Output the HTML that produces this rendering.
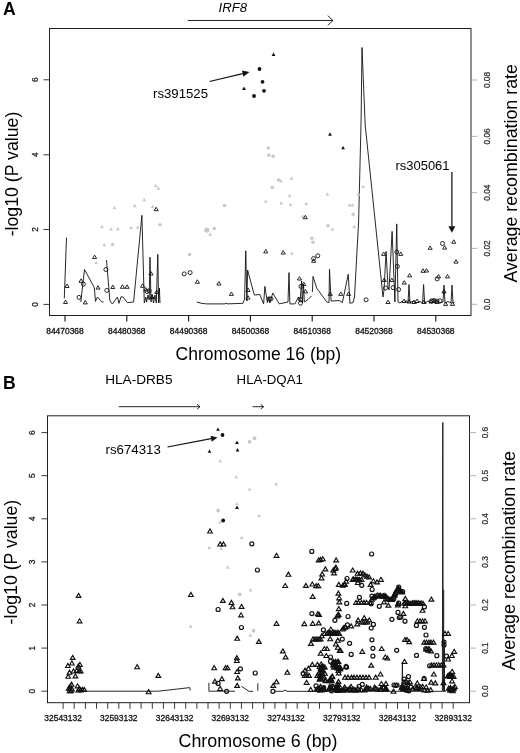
<!DOCTYPE html>
<html lang="en"><head><meta charset="utf-8"><title>Figure</title>
<style>html,body{margin:0;padding:0;background:#fff}svg{display:block}</style>
</head><body>
<svg width="520" height="753" viewBox="0 0 520 753" font-family="'Liberation Sans', Arial, Helvetica, sans-serif">
<rect width="520" height="753" fill="#fff"/>
<rect x="49.5" y="28.5" width="421.5" height="287.0" fill="none" stroke="#222" stroke-width="1"/>
<text x="2.9" y="15.1" font-size="17.6" fill="#000" text-anchor="start" font-weight="bold">A</text>
<text x="218.5" y="11.7" font-size="13" fill="#000" text-anchor="start" textLength="28.5" lengthAdjust="spacingAndGlyphs" font-style="italic">IRF8</text>
<path d="M187.7 20.5H333M327.7 15.6L333 20.5L327.7 25.4" fill="none" stroke="#111" stroke-width="0.9"/>
<path d="M43.5 79.8H49.5" stroke="#222" stroke-width="0.9"/>
<text transform="translate(37.7 79.8) rotate(-90)" font-size="8.3" fill="#222" text-anchor="middle" stroke="#222" stroke-width="0.3">6</text>
<path d="M43.5 154.8H49.5" stroke="#222" stroke-width="0.9"/>
<text transform="translate(37.7 154.8) rotate(-90)" font-size="8.3" fill="#222" text-anchor="middle" stroke="#222" stroke-width="0.3">4</text>
<path d="M43.5 229.5H49.5" stroke="#222" stroke-width="0.9"/>
<text transform="translate(37.7 229.5) rotate(-90)" font-size="8.3" fill="#222" text-anchor="middle" stroke="#222" stroke-width="0.3">2</text>
<path d="M43.5 304.4H49.5" stroke="#222" stroke-width="0.9"/>
<text transform="translate(37.7 304.4) rotate(-90)" font-size="8.3" fill="#222" text-anchor="middle" stroke="#222" stroke-width="0.3">0</text>
<path d="M471 80H477" stroke="#aaaaaa" stroke-width="0.9"/>
<text transform="translate(490.2 80) rotate(-90)" font-size="8.3" fill="#333" text-anchor="middle" stroke="#333" stroke-width="0.3">0.08</text>
<path d="M471 136.4H477" stroke="#aaaaaa" stroke-width="0.9"/>
<text transform="translate(490.2 136.4) rotate(-90)" font-size="8.3" fill="#333" text-anchor="middle" stroke="#333" stroke-width="0.3">0.06</text>
<path d="M471 192.6H477" stroke="#aaaaaa" stroke-width="0.9"/>
<text transform="translate(490.2 192.6) rotate(-90)" font-size="8.3" fill="#333" text-anchor="middle" stroke="#333" stroke-width="0.3">0.04</text>
<path d="M471 248.4H477" stroke="#aaaaaa" stroke-width="0.9"/>
<text transform="translate(490.2 248.4) rotate(-90)" font-size="8.3" fill="#333" text-anchor="middle" stroke="#333" stroke-width="0.3">0.02</text>
<path d="M471 304.3H477" stroke="#aaaaaa" stroke-width="0.9"/>
<text transform="translate(490.2 304.3) rotate(-90)" font-size="8.3" fill="#333" text-anchor="middle" stroke="#333" stroke-width="0.3">0.0</text>
<path d="M65.0 315.5V321.6" stroke="#111" stroke-width="1.1"/>
<text x="65.0" y="333.9" font-size="8.3" fill="#111" text-anchor="middle" textLength="37.5" lengthAdjust="spacingAndGlyphs" stroke="#111" stroke-width="0.3">84470368</text>
<path d="M126.8 315.5V321.6" stroke="#111" stroke-width="1.1"/>
<text x="126.8" y="333.9" font-size="8.3" fill="#111" text-anchor="middle" textLength="37.5" lengthAdjust="spacingAndGlyphs" stroke="#111" stroke-width="0.3">84480368</text>
<path d="M188.6 315.5V321.6" stroke="#111" stroke-width="1.1"/>
<text x="188.6" y="333.9" font-size="8.3" fill="#111" text-anchor="middle" textLength="37.5" lengthAdjust="spacingAndGlyphs" stroke="#111" stroke-width="0.3">84490368</text>
<path d="M250.4 315.5V321.6" stroke="#111" stroke-width="1.1"/>
<text x="250.4" y="333.9" font-size="8.3" fill="#111" text-anchor="middle" textLength="37.5" lengthAdjust="spacingAndGlyphs" stroke="#111" stroke-width="0.3">84500368</text>
<path d="M312.2 315.5V321.6" stroke="#111" stroke-width="1.1"/>
<text x="312.2" y="333.9" font-size="8.3" fill="#111" text-anchor="middle" textLength="37.5" lengthAdjust="spacingAndGlyphs" stroke="#111" stroke-width="0.3">84510368</text>
<path d="M374.0 315.5V321.6" stroke="#111" stroke-width="1.1"/>
<text x="374.0" y="333.9" font-size="8.3" fill="#111" text-anchor="middle" textLength="37.5" lengthAdjust="spacingAndGlyphs" stroke="#111" stroke-width="0.3">84520368</text>
<path d="M435.8 315.5V321.6" stroke="#111" stroke-width="1.1"/>
<text x="435.8" y="333.9" font-size="8.3" fill="#111" text-anchor="middle" textLength="37.5" lengthAdjust="spacingAndGlyphs" stroke="#111" stroke-width="0.3">84530368</text>
<text x="175.6" y="360" font-size="17.7" fill="#000" text-anchor="start" textLength="165.5" lengthAdjust="spacingAndGlyphs">Chromosome 16 (bp)</text>
<text transform="translate(18.4 236.3) rotate(-90)" font-size="17.7" fill="#000" text-anchor="start" textLength="124.6" lengthAdjust="spacingAndGlyphs">-log10 (P value)</text>
<text transform="translate(516.8 282.6) rotate(-90)" font-size="17.8" fill="#000" text-anchor="start" textLength="218.5" lengthAdjust="spacingAndGlyphs">Average recombination rate</text>
<text x="153" y="97.5" font-size="13" fill="#000" text-anchor="start" textLength="55" lengthAdjust="spacingAndGlyphs">rs391525</text>
<text x="395.5" y="170.3" font-size="13" fill="#000" text-anchor="start" textLength="54" lengthAdjust="spacingAndGlyphs">rs305061</text>
<path d="M209.5 81.5L242.7 73.6" stroke="#111" stroke-width="1.25"/><path d="M249.5 72.0L243.4 76.7L242.0 70.5Z" fill="#111"/>
<path d="M451.9 172.0L451.9 226.3" stroke="#111" stroke-width="1.25"/><path d="M451.9 232.8L448.4 226.3L455.4 226.3Z" fill="#111"/>
<path d="M64.3 298.3L66.5 237.6" fill="none" stroke="#111" stroke-width="0.9" stroke-linejoin="miter"/>
<path d="M80.8 302L84.5 269.5L94.3 287.6L95.5 301.4L97.4 297L101.8 302L103.6 302" fill="none" stroke="#111" stroke-width="0.9" stroke-linejoin="miter"/>
<path d="M106.5 260L109.9 300.8L112.4 304L113 303.2L117.4 297L119 303.3L121 296.8L123 297L127.4 302.6L133.6 302L141.9 215.4L144.3 303L145.8 297L146.6 302L148 295L149.2 300L150 257.2L151 302L152 294L153.5 303L155 295L156.3 303L157.8 254.3L158.6 303L159.4 288L160 303" fill="none" stroke="#111" stroke-width="0.9" stroke-linejoin="miter"/>
<path d="M196.8 302Q202 303.9 206.8 303.9L225 303.9L226 303L227 303.9L243 303.3L244.6 299L245.75 250.75L246.9 301L247.6 270L254.25 295L259.9 294.5L263.6 303.9L264.9 286.4L267.4 302.6L268.6 297L269.9 303L272.75 293L279.25 303.9L288 302L289 272.6L289.9 303.9L294.9 303.9L298.5 297L300 302L301.6 281L302.4 303L303.5 284L304.3 302L308 299.5L311.75 295.75" fill="none" stroke="#111" stroke-width="0.9" stroke-linejoin="miter"/>
<path d="M312.4 292L313 276.4L316.75 288.25L326.75 302L329 302.6L329.5 269.25L331.1 301L339.25 300.5L342.4 302.6L348.25 274.25L349.9 303.25L353 302.6L354.5 297L358.6 222L361.1 120L362 47.5L365.2 125L376.5 234L383 297L384 290L386.1 251.4L388 287L389 290L392.1 231.4L394.9 302L396.75 223.9L398 302L400 303L402 301L404 303L406 300.5L408 303L409 284.5L410 303L413 301L416 303L420 301.5L422.6 303L423.6 284.5L424.6 303L428 301L432 303L436 300.5L440 303L443 302L444 285L445 303L448 301.5L451 303L452 285L453 303L454.4 302.5" fill="none" stroke="#111" stroke-width="0.9" stroke-linejoin="miter"/>
<path d="M94.2 264.1L98.0 264.1L96.1 260.7Z" fill="#c9c9c9"/>
<path d="M100.1 228.3L103.9 228.3L102.0 224.8Z" fill="#c9c9c9"/>
<path d="M109.1 230.5L112.9 230.5L111.0 227.1Z" fill="#c9c9c9"/>
<path d="M102.3 246.3L106.2 246.3L104.2 242.8Z" fill="#c9c9c9"/>
<path d="M115.9 230.4L119.7 230.4L117.8 227.0Z" fill="#c9c9c9"/>
<path d="M129.2 229.1L133.0 229.1L131.1 225.7Z" fill="#c9c9c9"/>
<path d="M135.8 228.7L139.6 228.7L137.7 225.3Z" fill="#c9c9c9"/>
<path d="M153.9 187.3L157.7 187.3L155.8 183.9Z" fill="#c9c9c9"/>
<path d="M156.5 190.0L160.3 190.0L158.4 186.6Z" fill="#c9c9c9"/>
<path d="M142.3 201.2L146.1 201.2L144.2 197.8Z" fill="#c9c9c9"/>
<path d="M132.8 207.2L136.6 207.2L134.7 203.8Z" fill="#c9c9c9"/>
<path d="M112.6 209.2L116.4 209.2L114.5 205.8Z" fill="#c9c9c9"/>
<path d="M150.8 208.0L154.6 208.0L152.7 204.6Z" fill="#c9c9c9"/>
<path d="M208.3 235.8L212.2 235.8L210.2 232.3Z" fill="#c9c9c9"/>
<path d="M289.9 254.8L293.6 254.8L291.8 251.3Z" fill="#c9c9c9"/>
<path d="M330.5 230.8L334.3 230.8L332.4 227.3Z" fill="#c9c9c9"/>
<path d="M352.4 228.3L356.1 228.3L354.2 224.8Z" fill="#c9c9c9"/>
<path d="M289.6 179.7L293.4 179.7L291.5 176.3Z" fill="#c9c9c9"/>
<path d="M279.1 182.5L282.9 182.5L281.0 179.1Z" fill="#c9c9c9"/>
<path d="M287.6 197.2L291.4 197.2L289.5 193.8Z" fill="#c9c9c9"/>
<path d="M263.8 202.6L267.6 202.6L265.7 199.2Z" fill="#c9c9c9"/>
<path d="M279.3 204.6L283.1 204.6L281.2 201.2Z" fill="#c9c9c9"/>
<path d="M288.6 206.1L292.4 206.1L290.5 202.7Z" fill="#c9c9c9"/>
<path d="M304.3 205.0L308.1 205.0L306.2 201.6Z" fill="#c9c9c9"/>
<path d="M361.2 188.1L365.0 188.1L363.1 184.7Z" fill="#c9c9c9"/>
<path d="M356.6 195.7L360.4 195.7L358.5 192.3Z" fill="#c9c9c9"/>
<path d="M325.5 195.7L329.3 195.7L327.4 192.3Z" fill="#c9c9c9"/>
<path d="M347.6 206.4L351.4 206.4L349.5 203.0Z" fill="#c9c9c9"/>
<path d="M350.4 206.5L354.2 206.5L352.3 203.1Z" fill="#c9c9c9"/>
<circle cx="112.6" cy="244.5" r="1.8" fill="#c9c9c9"/>
<circle cx="160.0" cy="224.7" r="1.8" fill="#c9c9c9"/>
<circle cx="206.8" cy="230.1" r="2.6" fill="#c9c9c9"/>
<circle cx="214.2" cy="228.5" r="1.8" fill="#c9c9c9"/>
<circle cx="189.5" cy="254.5" r="1.8" fill="#c9c9c9"/>
<circle cx="268.2" cy="148.0" r="1.8" fill="#c9c9c9"/>
<circle cx="268.8" cy="155.1" r="1.8" fill="#c9c9c9"/>
<circle cx="273.1" cy="156.2" r="1.8" fill="#c9c9c9"/>
<circle cx="278.5" cy="180.0" r="1.8" fill="#c9c9c9"/>
<circle cx="272.3" cy="187.4" r="1.8" fill="#c9c9c9"/>
<circle cx="303.0" cy="217.0" r="1.8" fill="#c9c9c9"/>
<circle cx="328.0" cy="225.8" r="1.8" fill="#c9c9c9"/>
<circle cx="311.8" cy="238.2" r="1.8" fill="#c9c9c9"/>
<circle cx="313.0" cy="242.2" r="1.8" fill="#c9c9c9"/>
<circle cx="353.1" cy="214.2" r="1.8" fill="#c9c9c9"/>
<circle cx="224.5" cy="205.5" r="1.8" fill="#c9c9c9"/>
<path d="M63.5 303.5L67.5 303.5L65.5 300.1Z" fill="none" stroke="#111" stroke-width="0.9"/>
<path d="M65.0 287.5L69.1 287.5L67.1 284.1Z" fill="none" stroke="#111" stroke-width="0.9"/>
<path d="M79.0 282.3L83.1 282.3L81.1 278.8Z" fill="none" stroke="#111" stroke-width="0.9"/>
<path d="M83.2 303.9L87.3 303.9L85.2 300.5Z" fill="none" stroke="#111" stroke-width="0.9"/>
<path d="M92.5 258.5L96.6 258.5L94.6 255.1Z" fill="none" stroke="#111" stroke-width="0.9"/>
<path d="M96.0 289.1L100.0 289.1L98.0 285.7Z" fill="none" stroke="#111" stroke-width="0.9"/>
<path d="M110.8 288.5L114.8 288.5L112.8 285.1Z" fill="none" stroke="#111" stroke-width="0.9"/>
<path d="M120.4 288.3L124.5 288.3L122.4 284.8Z" fill="none" stroke="#111" stroke-width="0.9"/>
<path d="M125.0 288.3L129.1 288.3L127.0 284.8Z" fill="none" stroke="#111" stroke-width="0.9"/>
<path d="M140.5 287.3L144.7 287.3L142.6 283.8Z" fill="none" stroke="#111" stroke-width="0.9"/>
<path d="M148.9 275.0L153.1 275.0L151.0 271.6Z" fill="none" stroke="#111" stroke-width="0.9"/>
<path d="M143.7 291.0L147.8 291.0L145.8 287.6Z" fill="none" stroke="#111" stroke-width="0.9"/>
<path d="M149.9 298.5L154.1 298.5L152.0 295.1Z" fill="none" stroke="#111" stroke-width="0.9"/>
<path d="M154.7 293.5L158.8 293.5L156.8 290.1Z" fill="none" stroke="#111" stroke-width="0.9"/>
<path d="M154.1 210.7L158.2 210.7L156.2 207.3Z" fill="none" stroke="#111" stroke-width="0.9"/>
<path d="M195.3 283.3L199.5 283.3L197.4 279.8Z" fill="none" stroke="#111" stroke-width="0.9"/>
<path d="M216.8 285.0L221.0 285.0L218.9 281.6Z" fill="none" stroke="#111" stroke-width="0.9"/>
<path d="M229.3 295.4L233.5 295.4L231.4 292.0Z" fill="none" stroke="#111" stroke-width="0.9"/>
<path d="M263.7 252.9L267.8 252.9L265.8 249.5Z" fill="none" stroke="#111" stroke-width="0.9"/>
<path d="M281.2 254.1L285.3 254.1L283.2 250.7Z" fill="none" stroke="#111" stroke-width="0.9"/>
<path d="M297.4 280.0L301.6 280.0L299.5 276.6Z" fill="none" stroke="#111" stroke-width="0.9"/>
<path d="M245.9 291.5L250.1 291.5L248.0 288.1Z" fill="none" stroke="#111" stroke-width="0.9"/>
<path d="M245.9 299.1L250.1 299.1L248.0 295.7Z" fill="none" stroke="#111" stroke-width="0.9"/>
<path d="M303.4 292.9L307.6 292.9L305.5 289.5Z" fill="none" stroke="#111" stroke-width="0.9"/>
<path d="M303.3 218.7L307.4 218.7L305.4 215.3Z" fill="none" stroke="#111" stroke-width="0.9"/>
<path d="M311.6 262.3L315.7 262.3L313.6 258.8Z" fill="none" stroke="#111" stroke-width="0.9"/>
<path d="M328.2 295.4L332.3 295.4L330.2 292.0Z" fill="none" stroke="#111" stroke-width="0.9"/>
<path d="M338.7 295.4L342.8 295.4L340.8 292.0Z" fill="none" stroke="#111" stroke-width="0.9"/>
<path d="M346.6 295.4L350.7 295.4L348.6 292.0Z" fill="none" stroke="#111" stroke-width="0.9"/>
<path d="M381.6 255.4L385.7 255.4L383.6 252.0Z" fill="none" stroke="#111" stroke-width="0.9"/>
<path d="M398.7 255.4L402.8 255.4L400.8 252.0Z" fill="none" stroke="#111" stroke-width="0.9"/>
<path d="M428.1 249.3L432.2 249.3L430.1 245.9Z" fill="none" stroke="#111" stroke-width="0.9"/>
<path d="M407.6 276.9L411.7 276.9L409.6 273.5Z" fill="none" stroke="#111" stroke-width="0.9"/>
<path d="M402.2 284.1L406.3 284.1L404.2 280.7Z" fill="none" stroke="#111" stroke-width="0.9"/>
<path d="M420.9 272.3L425.1 272.3L423.0 268.8Z" fill="none" stroke="#111" stroke-width="0.9"/>
<path d="M424.4 272.0L428.6 272.0L426.5 268.6Z" fill="none" stroke="#111" stroke-width="0.9"/>
<path d="M385.9 303.5L390.1 303.5L388.0 300.1Z" fill="none" stroke="#111" stroke-width="0.9"/>
<path d="M382.2 281.5L386.3 281.5L384.2 278.1Z" fill="none" stroke="#111" stroke-width="0.9"/>
<path d="M389.7 281.5L393.8 281.5L391.8 278.1Z" fill="none" stroke="#111" stroke-width="0.9"/>
<path d="M401.9 302.5L406.1 302.5L404.0 299.1Z" fill="none" stroke="#111" stroke-width="0.9"/>
<path d="M406.9 303.0L411.1 303.0L409.0 299.6Z" fill="none" stroke="#111" stroke-width="0.9"/>
<path d="M411.9 303.5L416.1 303.5L414.0 300.1Z" fill="none" stroke="#111" stroke-width="0.9"/>
<path d="M414.9 302.5L419.1 302.5L417.0 299.1Z" fill="none" stroke="#111" stroke-width="0.9"/>
<path d="M421.9 303.5L426.1 303.5L424.0 300.1Z" fill="none" stroke="#111" stroke-width="0.9"/>
<path d="M428.9 303.0L433.1 303.0L431.0 299.6Z" fill="none" stroke="#111" stroke-width="0.9"/>
<path d="M431.9 302.5L436.1 302.5L434.0 299.1Z" fill="none" stroke="#111" stroke-width="0.9"/>
<path d="M434.9 303.5L439.1 303.5L437.0 300.1Z" fill="none" stroke="#111" stroke-width="0.9"/>
<path d="M451.7 243.3L455.8 243.3L453.8 239.8Z" fill="none" stroke="#111" stroke-width="0.9"/>
<path d="M442.6 249.1L446.7 249.1L444.6 245.7Z" fill="none" stroke="#111" stroke-width="0.9"/>
<path d="M453.9 263.1L458.1 263.1L456.0 259.7Z" fill="none" stroke="#111" stroke-width="0.9"/>
<path d="M436.4 277.9L440.6 277.9L438.5 274.5Z" fill="none" stroke="#111" stroke-width="0.9"/>
<path d="M445.4 277.9L449.6 277.9L447.5 274.5Z" fill="none" stroke="#111" stroke-width="0.9"/>
<path d="M441.9 292.9L446.1 292.9L444.0 289.5Z" fill="none" stroke="#111" stroke-width="0.9"/>
<path d="M443.6 305.4L447.7 305.4L445.6 302.0Z" fill="none" stroke="#111" stroke-width="0.9"/>
<path d="M450.4 305.4L454.6 305.4L452.5 302.0Z" fill="none" stroke="#111" stroke-width="0.9"/>
<path d="M301.7 285.5L305.8 285.5L303.8 282.1Z" fill="none" stroke="#111" stroke-width="0.9"/>
<circle cx="79.0" cy="297.4" r="2.0" fill="none" stroke="#111" stroke-width="0.9"/>
<circle cx="83.4" cy="284.2" r="2.0" fill="none" stroke="#111" stroke-width="0.9"/>
<circle cx="105.9" cy="269.5" r="2.0" fill="none" stroke="#111" stroke-width="0.9"/>
<circle cx="106.8" cy="290.4" r="2.0" fill="none" stroke="#111" stroke-width="0.9"/>
<circle cx="149.2" cy="290.8" r="2.0" fill="none" stroke="#111" stroke-width="0.9"/>
<circle cx="147.0" cy="291.5" r="2.0" fill="none" stroke="#111" stroke-width="0.9"/>
<circle cx="184.2" cy="273.9" r="2.0" fill="none" stroke="#111" stroke-width="0.9"/>
<circle cx="190.1" cy="272.6" r="2.0" fill="none" stroke="#111" stroke-width="0.9"/>
<circle cx="269.0" cy="298.9" r="2.0" fill="none" stroke="#111" stroke-width="0.9"/>
<circle cx="271.0" cy="298.9" r="2.0" fill="none" stroke="#111" stroke-width="0.9"/>
<circle cx="301.0" cy="286.4" r="2.0" fill="none" stroke="#111" stroke-width="0.9"/>
<circle cx="300.5" cy="299.5" r="2.0" fill="none" stroke="#111" stroke-width="0.9"/>
<circle cx="300.5" cy="303.2" r="2.0" fill="none" stroke="#111" stroke-width="0.9"/>
<circle cx="313.6" cy="258.5" r="2.0" fill="none" stroke="#111" stroke-width="0.9"/>
<circle cx="317.8" cy="255.8" r="2.0" fill="none" stroke="#111" stroke-width="0.9"/>
<circle cx="366.1" cy="299.8" r="2.0" fill="none" stroke="#111" stroke-width="0.9"/>
<circle cx="396.8" cy="252.0" r="2.0" fill="none" stroke="#111" stroke-width="0.9"/>
<circle cx="397.4" cy="266.4" r="2.0" fill="none" stroke="#111" stroke-width="0.9"/>
<circle cx="398.6" cy="289.5" r="2.0" fill="none" stroke="#111" stroke-width="0.9"/>
<circle cx="393.0" cy="287.6" r="2.0" fill="none" stroke="#111" stroke-width="0.9"/>
<circle cx="437.2" cy="278.9" r="2.0" fill="none" stroke="#111" stroke-width="0.9"/>
<circle cx="385.5" cy="288.0" r="2.0" fill="none" stroke="#111" stroke-width="0.9"/>
<circle cx="442.5" cy="243.5" r="2.0" fill="none" stroke="#111" stroke-width="0.9"/>
<circle cx="431.5" cy="300.8" r="2.0" fill="none" stroke="#111" stroke-width="0.9"/>
<circle cx="434.0" cy="300.5" r="2.0" fill="none" stroke="#111" stroke-width="0.9"/>
<circle cx="437.0" cy="301.0" r="2.0" fill="none" stroke="#111" stroke-width="0.9"/>
<circle cx="440.0" cy="300.8" r="2.0" fill="none" stroke="#111" stroke-width="0.9"/>
<path d="M242.1 90.0L245.9 90.0L244.0 86.6Z" fill="#111"/>
<path d="M271.6 56.0L275.4 56.0L273.5 52.6Z" fill="#111"/>
<path d="M328.1 135.7L331.9 135.7L330.0 132.3Z" fill="#111"/>
<path d="M341.2 149.3L345.0 149.3L343.1 145.9Z" fill="#111"/>
<circle cx="254.0" cy="96.0" r="1.9" fill="#111"/>
<circle cx="259.5" cy="69.0" r="1.9" fill="#111"/>
<circle cx="262.5" cy="81.8" r="1.9" fill="#111"/>
<circle cx="264.0" cy="90.8" r="1.9" fill="#111"/>
<rect x="47.5" y="415.8" width="422.0" height="286.90000000000003" fill="none" stroke="#222" stroke-width="1"/>
<text x="2.9" y="388.9" font-size="17.6" fill="#000" text-anchor="start" font-weight="bold">B</text>
<text x="105.2" y="384.2" font-size="13.6" fill="#000" text-anchor="start" textLength="67.3" lengthAdjust="spacingAndGlyphs">HLA-DRB5</text>
<text x="236.6" y="384.2" font-size="13.6" fill="#000" text-anchor="start" textLength="66.3" lengthAdjust="spacingAndGlyphs">HLA-DQA1</text>
<path d="M118.8 406.7H200M197 404.2L200 406.7L197 409.2" fill="none" stroke="#111" stroke-width="0.9"/>
<path d="M252.6 406.7H263.6M260.6 404.3L263.6 406.7L260.6 409.1" fill="none" stroke="#111" stroke-width="0.9"/>
<path d="M41.5 691.2H47.5" stroke="#222" stroke-width="0.9"/>
<text transform="translate(35.1 691.2) rotate(-90)" font-size="8.3" fill="#222" text-anchor="middle" stroke="#222" stroke-width="0.3">0</text>
<path d="M41.5 648.1H47.5" stroke="#222" stroke-width="0.9"/>
<text transform="translate(35.1 648.1) rotate(-90)" font-size="8.3" fill="#222" text-anchor="middle" stroke="#222" stroke-width="0.3">1</text>
<path d="M41.5 605.0H47.5" stroke="#222" stroke-width="0.9"/>
<text transform="translate(35.1 605.0) rotate(-90)" font-size="8.3" fill="#222" text-anchor="middle" stroke="#222" stroke-width="0.3">2</text>
<path d="M41.5 561.9H47.5" stroke="#222" stroke-width="0.9"/>
<text transform="translate(35.1 561.9) rotate(-90)" font-size="8.3" fill="#222" text-anchor="middle" stroke="#222" stroke-width="0.3">3</text>
<path d="M41.5 518.8H47.5" stroke="#222" stroke-width="0.9"/>
<text transform="translate(35.1 518.8) rotate(-90)" font-size="8.3" fill="#222" text-anchor="middle" stroke="#222" stroke-width="0.3">4</text>
<path d="M41.5 475.7H47.5" stroke="#222" stroke-width="0.9"/>
<text transform="translate(35.1 475.7) rotate(-90)" font-size="8.3" fill="#222" text-anchor="middle" stroke="#222" stroke-width="0.3">5</text>
<path d="M41.5 432.6H47.5" stroke="#222" stroke-width="0.9"/>
<text transform="translate(35.1 432.6) rotate(-90)" font-size="8.3" fill="#222" text-anchor="middle" stroke="#222" stroke-width="0.3">6</text>
<path d="M469.5 691.2H476" stroke="#aaaaaa" stroke-width="0.9"/>
<text transform="translate(487.9 691.2) rotate(-90)" font-size="8.3" fill="#333" text-anchor="middle" stroke="#333" stroke-width="0.3">0.0</text>
<path d="M469.5 648.1H476" stroke="#aaaaaa" stroke-width="0.9"/>
<text transform="translate(487.9 648.1) rotate(-90)" font-size="8.3" fill="#333" text-anchor="middle" stroke="#333" stroke-width="0.3">0.1</text>
<path d="M469.5 605.0H476" stroke="#aaaaaa" stroke-width="0.9"/>
<text transform="translate(487.9 605.0) rotate(-90)" font-size="8.3" fill="#333" text-anchor="middle" stroke="#333" stroke-width="0.3">0.2</text>
<path d="M469.5 561.9H476" stroke="#aaaaaa" stroke-width="0.9"/>
<text transform="translate(487.9 561.9) rotate(-90)" font-size="8.3" fill="#333" text-anchor="middle" stroke="#333" stroke-width="0.3">0.3</text>
<path d="M469.5 518.8H476" stroke="#aaaaaa" stroke-width="0.9"/>
<text transform="translate(487.9 518.8) rotate(-90)" font-size="8.3" fill="#333" text-anchor="middle" stroke="#333" stroke-width="0.3">0.4</text>
<path d="M469.5 475.7H476" stroke="#aaaaaa" stroke-width="0.9"/>
<text transform="translate(487.9 475.7) rotate(-90)" font-size="8.3" fill="#333" text-anchor="middle" stroke="#333" stroke-width="0.3">0.5</text>
<path d="M469.5 432.6H476" stroke="#aaaaaa" stroke-width="0.9"/>
<text transform="translate(487.9 432.6) rotate(-90)" font-size="8.3" fill="#333" text-anchor="middle" stroke="#333" stroke-width="0.3">0.6</text>
<path d="M63.1 702.7V708.8" stroke="#222" stroke-width="0.9"/>
<text x="63.1" y="720.6" font-size="8.3" fill="#111" text-anchor="middle" textLength="37.5" lengthAdjust="spacingAndGlyphs" stroke="#111" stroke-width="0.3">32543132</text>
<path d="M74.2 702.7V708.8" stroke="#222" stroke-width="0.9"/>
<path d="M85.4 702.7V708.8" stroke="#222" stroke-width="0.9"/>
<path d="M96.5 702.7V708.8" stroke="#222" stroke-width="0.9"/>
<path d="M107.7 702.7V708.8" stroke="#222" stroke-width="0.9"/>
<path d="M118.8 702.7V708.8" stroke="#222" stroke-width="0.9"/>
<text x="118.8" y="720.6" font-size="8.3" fill="#111" text-anchor="middle" textLength="37.5" lengthAdjust="spacingAndGlyphs" stroke="#111" stroke-width="0.3">32593132</text>
<path d="M130.0 702.7V708.8" stroke="#222" stroke-width="0.9"/>
<path d="M141.1 702.7V708.8" stroke="#222" stroke-width="0.9"/>
<path d="M152.3 702.7V708.8" stroke="#222" stroke-width="0.9"/>
<path d="M163.4 702.7V708.8" stroke="#222" stroke-width="0.9"/>
<path d="M174.6 702.7V708.8" stroke="#222" stroke-width="0.9"/>
<text x="174.6" y="720.6" font-size="8.3" fill="#111" text-anchor="middle" textLength="37.5" lengthAdjust="spacingAndGlyphs" stroke="#111" stroke-width="0.3">32643132</text>
<path d="M185.7 702.7V708.8" stroke="#222" stroke-width="0.9"/>
<path d="M196.9 702.7V708.8" stroke="#222" stroke-width="0.9"/>
<path d="M208.0 702.7V708.8" stroke="#222" stroke-width="0.9"/>
<path d="M219.1 702.7V708.8" stroke="#222" stroke-width="0.9"/>
<path d="M230.3 702.7V708.8" stroke="#222" stroke-width="0.9"/>
<text x="230.3" y="720.6" font-size="8.3" fill="#111" text-anchor="middle" textLength="37.5" lengthAdjust="spacingAndGlyphs" stroke="#111" stroke-width="0.3">32693132</text>
<path d="M241.4 702.7V708.8" stroke="#222" stroke-width="0.9"/>
<path d="M252.6 702.7V708.8" stroke="#222" stroke-width="0.9"/>
<path d="M263.7 702.7V708.8" stroke="#222" stroke-width="0.9"/>
<path d="M274.9 702.7V708.8" stroke="#222" stroke-width="0.9"/>
<path d="M286.0 702.7V708.8" stroke="#222" stroke-width="0.9"/>
<text x="286.0" y="720.6" font-size="8.3" fill="#111" text-anchor="middle" textLength="37.5" lengthAdjust="spacingAndGlyphs" stroke="#111" stroke-width="0.3">32743132</text>
<path d="M297.2 702.7V708.8" stroke="#222" stroke-width="0.9"/>
<path d="M308.3 702.7V708.8" stroke="#222" stroke-width="0.9"/>
<path d="M319.5 702.7V708.8" stroke="#222" stroke-width="0.9"/>
<path d="M330.6 702.7V708.8" stroke="#222" stroke-width="0.9"/>
<path d="M341.8 702.7V708.8" stroke="#222" stroke-width="0.9"/>
<text x="341.8" y="720.6" font-size="8.3" fill="#111" text-anchor="middle" textLength="37.5" lengthAdjust="spacingAndGlyphs" stroke="#111" stroke-width="0.3">32793132</text>
<path d="M352.9 702.7V708.8" stroke="#222" stroke-width="0.9"/>
<path d="M364.0 702.7V708.8" stroke="#222" stroke-width="0.9"/>
<path d="M375.2 702.7V708.8" stroke="#222" stroke-width="0.9"/>
<path d="M386.3 702.7V708.8" stroke="#222" stroke-width="0.9"/>
<path d="M397.5 702.7V708.8" stroke="#222" stroke-width="0.9"/>
<text x="397.5" y="720.6" font-size="8.3" fill="#111" text-anchor="middle" textLength="37.5" lengthAdjust="spacingAndGlyphs" stroke="#111" stroke-width="0.3">32843132</text>
<path d="M408.6 702.7V708.8" stroke="#222" stroke-width="0.9"/>
<path d="M419.8 702.7V708.8" stroke="#222" stroke-width="0.9"/>
<path d="M430.9 702.7V708.8" stroke="#222" stroke-width="0.9"/>
<path d="M442.1 702.7V708.8" stroke="#222" stroke-width="0.9"/>
<path d="M453.2 702.7V708.8" stroke="#222" stroke-width="0.9"/>
<text x="453.2" y="720.6" font-size="8.3" fill="#111" text-anchor="middle" textLength="37.5" lengthAdjust="spacingAndGlyphs" stroke="#111" stroke-width="0.3">32893132</text>
<text x="178.5" y="747" font-size="17.7" fill="#000" text-anchor="start" textLength="159" lengthAdjust="spacingAndGlyphs">Chromosome 6 (bp)</text>
<text transform="translate(16.6 624.4) rotate(-90)" font-size="17.7" fill="#000" text-anchor="start" textLength="124.6" lengthAdjust="spacingAndGlyphs">-log10 (P value)</text>
<text transform="translate(514.6 670.3) rotate(-90)" font-size="17.8" fill="#000" text-anchor="start" textLength="219.3" lengthAdjust="spacingAndGlyphs">Average recombination rate</text>
<text x="105.5" y="453.8" font-size="13" fill="#000" text-anchor="start" textLength="55.3" lengthAdjust="spacingAndGlyphs">rs674313</text>
<path d="M167.5 447.0L211.1 438.7" stroke="#111" stroke-width="1.25"/><path d="M217.5 437.5L211.7 441.7L210.6 435.8Z" fill="#111"/>
<path d="M84 691.2H158.3L189.8 687.6L190.3 690.5" fill="none" stroke="#111" stroke-width="0.9"/>
<path d="M208.9 682.8V691.2H235" fill="none" stroke="#111" stroke-width="0.9"/>
<path d="M241.4 686.2L248.9 691.3H253" fill="none" stroke="#111" stroke-width="0.9"/>
<path d="M257.8 683.4V690.9" fill="none" stroke="#111" stroke-width="0.9"/>
<path d="M274.4 691.3H283L285 690L287 691.3H402L402.4 662.3L402.8 691.3H442.4L442.8 422.5L443.2 691.3H446" fill="none" stroke="#111" stroke-width="0.9"/>
<path d="M443.7 589.7V691.3M444.5 640V691.3" stroke="#111" stroke-width="0.9" fill="none"/>
<path d="M218.4 462.3L222.2 462.3L220.3 458.9Z" fill="#c9c9c9"/>
<path d="M234.3 478.3L238.2 478.3L236.2 474.9Z" fill="#c9c9c9"/>
<path d="M247.6 490.8L251.4 490.8L249.5 487.4Z" fill="#c9c9c9"/>
<path d="M274.4 485.5L278.1 485.5L276.2 482.1Z" fill="#c9c9c9"/>
<path d="M234.8 505.3L238.7 505.3L236.8 501.9Z" fill="#c9c9c9"/>
<path d="M257.1 517.0L260.9 517.0L259.0 513.6Z" fill="#c9c9c9"/>
<path d="M218.3 523.5L222.1 523.5L220.2 520.1Z" fill="#c9c9c9"/>
<path d="M239.8 539.0L243.7 539.0L241.8 535.6Z" fill="#c9c9c9"/>
<path d="M207.3 549.1L211.1 549.1L209.2 545.7Z" fill="#c9c9c9"/>
<path d="M219.3 550.1L223.1 550.1L221.2 546.7Z" fill="#c9c9c9"/>
<path d="M225.7 568.7L229.5 568.7L227.6 565.3Z" fill="#c9c9c9"/>
<path d="M248.7 591.5L252.5 591.5L250.6 588.1Z" fill="#c9c9c9"/>
<path d="M248.5 636.7L252.3 636.7L250.4 633.3Z" fill="#c9c9c9"/>
<path d="M188.7 627.7L192.5 627.7L190.6 624.3Z" fill="#c9c9c9"/>
<circle cx="249.5" cy="441.8" r="1.9" fill="#c9c9c9"/>
<circle cx="254.5" cy="438.2" r="1.9" fill="#c9c9c9"/>
<circle cx="218.2" cy="510.5" r="1.9" fill="#c9c9c9"/>
<circle cx="239.7" cy="594.4" r="1.9" fill="#c9c9c9"/>
<circle cx="253.5" cy="630.7" r="1.9" fill="#c9c9c9"/>
<path d="M76.2 597.4L80.9 597.4L78.6 593.4Z" fill="none" stroke="#111" stroke-width="1.15"/>
<path d="M77.2 622.8L81.9 622.8L79.6 618.8Z" fill="none" stroke="#111" stroke-width="1.15"/>
<path d="M70.4 659.4L75.0 659.4L72.7 655.4Z" fill="none" stroke="#111" stroke-width="1.15"/>
<path d="M69.6 665.0L74.2 665.0L71.9 661.0Z" fill="none" stroke="#111" stroke-width="1.15"/>
<path d="M65.6 667.5L70.2 667.5L67.9 663.5Z" fill="none" stroke="#111" stroke-width="1.15"/>
<path d="M77.6 666.3L82.2 666.3L79.9 662.3Z" fill="none" stroke="#111" stroke-width="1.15"/>
<path d="M76.0 667.8L80.6 667.8L78.3 663.8Z" fill="none" stroke="#111" stroke-width="1.15"/>
<path d="M67.2 674.2L71.8 674.2L69.5 670.2Z" fill="none" stroke="#111" stroke-width="1.15"/>
<path d="M71.2 673.0L75.8 673.0L73.5 669.0Z" fill="none" stroke="#111" stroke-width="1.15"/>
<path d="M74.4 672.3L79.0 672.3L76.7 668.3Z" fill="none" stroke="#111" stroke-width="1.15"/>
<path d="M76.7 672.6L81.3 672.6L79.0 668.6Z" fill="none" stroke="#111" stroke-width="1.15"/>
<path d="M78.4 673.0L83.0 673.0L80.7 669.0Z" fill="none" stroke="#111" stroke-width="1.15"/>
<path d="M65.9 678.2L70.5 678.2L68.2 674.2Z" fill="none" stroke="#111" stroke-width="1.15"/>
<path d="M73.1 677.9L77.8 677.9L75.4 673.9Z" fill="none" stroke="#111" stroke-width="1.15"/>
<path d="M68.0 687.8L72.6 687.8L70.3 683.8Z" fill="none" stroke="#111" stroke-width="1.15"/>
<path d="M66.4 690.2L71.0 690.2L68.7 686.2Z" fill="none" stroke="#111" stroke-width="1.15"/>
<path d="M69.2 686.2L73.9 686.2L71.6 682.2Z" fill="none" stroke="#111" stroke-width="1.15"/>
<path d="M75.2 687.8L79.8 687.8L77.5 683.8Z" fill="none" stroke="#111" stroke-width="1.15"/>
<path d="M67.2 692.6L71.8 692.6L69.5 688.6Z" fill="none" stroke="#111" stroke-width="1.15"/>
<path d="M68.8 692.6L73.4 692.6L71.1 688.6Z" fill="none" stroke="#111" stroke-width="1.15"/>
<path d="M76.0 691.8L80.6 691.8L78.3 687.8Z" fill="none" stroke="#111" stroke-width="1.15"/>
<path d="M78.4 691.8L83.0 691.8L80.7 687.8Z" fill="none" stroke="#111" stroke-width="1.15"/>
<path d="M80.0 691.4L84.6 691.4L82.3 687.4Z" fill="none" stroke="#111" stroke-width="1.15"/>
<path d="M82.0 691.4L86.6 691.4L84.3 687.4Z" fill="none" stroke="#111" stroke-width="1.15"/>
<path d="M67.7 690.3L72.3 690.3L70.0 686.3Z" fill="none" stroke="#111" stroke-width="1.15"/>
<path d="M69.7 690.8L74.3 690.8L72.0 686.8Z" fill="none" stroke="#111" stroke-width="1.15"/>
<path d="M77.2 690.3L81.8 690.3L79.5 686.3Z" fill="none" stroke="#111" stroke-width="1.15"/>
<path d="M188.6 596.5L193.2 596.5L190.9 592.5Z" fill="none" stroke="#111" stroke-width="1.15"/>
<path d="M134.8 668.7L139.5 668.7L137.2 664.7Z" fill="none" stroke="#111" stroke-width="1.15"/>
<path d="M156.0 677.4L160.7 677.4L158.3 673.4Z" fill="none" stroke="#111" stroke-width="1.15"/>
<path d="M146.3 693.7L151.0 693.7L148.7 689.7Z" fill="none" stroke="#111" stroke-width="1.15"/>
<path d="M207.7 533.0L212.3 533.0L210.0 529.0Z" fill="none" stroke="#111" stroke-width="1.15"/>
<path d="M217.8 546.0L222.5 546.0L220.2 542.0Z" fill="none" stroke="#111" stroke-width="1.15"/>
<path d="M221.1 546.0L225.8 546.0L223.4 542.0Z" fill="none" stroke="#111" stroke-width="1.15"/>
<path d="M274.1 557.3L278.9 557.3L276.5 553.3Z" fill="none" stroke="#111" stroke-width="1.15"/>
<path d="M286.0 576.2L290.8 576.2L288.4 572.2Z" fill="none" stroke="#111" stroke-width="1.15"/>
<path d="M282.8 587.5L287.6 587.5L285.2 583.5Z" fill="none" stroke="#111" stroke-width="1.15"/>
<path d="M220.6 602.4L225.2 602.4L222.9 598.4Z" fill="none" stroke="#111" stroke-width="1.15"/>
<path d="M229.1 604.5L233.8 604.5L231.4 600.5Z" fill="none" stroke="#111" stroke-width="1.15"/>
<path d="M230.2 608.7L234.8 608.7L232.5 604.7Z" fill="none" stroke="#111" stroke-width="1.15"/>
<path d="M239.2 608.3L243.9 608.3L241.6 604.3Z" fill="none" stroke="#111" stroke-width="1.15"/>
<path d="M238.7 616.8L243.3 616.8L241.0 612.8Z" fill="none" stroke="#111" stroke-width="1.15"/>
<path d="M274.1 625.3L278.9 625.3L276.5 621.3Z" fill="none" stroke="#111" stroke-width="1.15"/>
<path d="M234.8 640.2L239.5 640.2L237.2 636.2Z" fill="none" stroke="#111" stroke-width="1.15"/>
<path d="M256.5 643.4L261.2 643.4L258.9 639.4Z" fill="none" stroke="#111" stroke-width="1.15"/>
<path d="M280.5 652.9L285.2 652.9L282.9 648.9Z" fill="none" stroke="#111" stroke-width="1.15"/>
<path d="M283.2 658.9L288.0 658.9L285.6 654.9Z" fill="none" stroke="#111" stroke-width="1.15"/>
<path d="M234.5 659.7L239.2 659.7L236.8 655.7Z" fill="none" stroke="#111" stroke-width="1.15"/>
<path d="M234.5 662.5L239.2 662.5L236.8 658.5Z" fill="none" stroke="#111" stroke-width="1.15"/>
<path d="M211.8 669.7L216.5 669.7L214.2 665.7Z" fill="none" stroke="#111" stroke-width="1.15"/>
<path d="M223.2 669.7L227.8 669.7L225.5 665.7Z" fill="none" stroke="#111" stroke-width="1.15"/>
<path d="M225.2 669.7L229.9 669.7L227.6 665.7Z" fill="none" stroke="#111" stroke-width="1.15"/>
<path d="M234.8 673.5L239.5 673.5L237.2 669.5Z" fill="none" stroke="#111" stroke-width="1.15"/>
<path d="M284.9 674.2L289.7 674.2L287.3 670.2Z" fill="none" stroke="#111" stroke-width="1.15"/>
<path d="M235.5 679.9L240.2 679.9L237.8 675.9Z" fill="none" stroke="#111" stroke-width="1.15"/>
<path d="M219.6 680.6L224.2 680.6L221.9 676.6Z" fill="none" stroke="#111" stroke-width="1.15"/>
<path d="M212.6 683.1L217.2 683.1L214.9 679.1Z" fill="none" stroke="#111" stroke-width="1.15"/>
<path d="M274.1 683.7L278.9 683.7L276.5 679.7Z" fill="none" stroke="#111" stroke-width="1.15"/>
<path d="M234.8 687.4L239.5 687.4L237.2 683.4Z" fill="none" stroke="#111" stroke-width="1.15"/>
<path d="M270.9 687.4L275.7 687.4L273.3 683.4Z" fill="none" stroke="#111" stroke-width="1.15"/>
<path d="M217.8 690.5L222.5 690.5L220.2 686.5Z" fill="none" stroke="#111" stroke-width="1.15"/>
<path d="M316.3 561.9L321.1 561.9L318.7 557.9Z" fill="none" stroke="#111" stroke-width="1.15"/>
<path d="M318.2 561.3L323.0 561.3L320.6 557.3Z" fill="none" stroke="#111" stroke-width="1.15"/>
<path d="M320.4 560.7L325.2 560.7L322.8 556.7Z" fill="none" stroke="#111" stroke-width="1.15"/>
<path d="M333.8 561.9L338.5 561.9L336.1 557.9Z" fill="none" stroke="#111" stroke-width="1.15"/>
<path d="M323.0 570.9L327.8 570.9L325.4 566.9Z" fill="none" stroke="#111" stroke-width="1.15"/>
<path d="M330.9 571.8L335.7 571.8L333.3 567.8Z" fill="none" stroke="#111" stroke-width="1.15"/>
<path d="M332.9 570.5L337.7 570.5L335.3 566.5Z" fill="none" stroke="#111" stroke-width="1.15"/>
<path d="M333.5 569.2L338.2 569.2L335.9 565.2Z" fill="none" stroke="#111" stroke-width="1.15"/>
<path d="M331.6 574.9L336.4 574.9L334.0 570.9Z" fill="none" stroke="#111" stroke-width="1.15"/>
<path d="M319.8 576.0L324.5 576.0L322.1 572.0Z" fill="none" stroke="#111" stroke-width="1.15"/>
<path d="M319.1 579.8L323.9 579.8L321.5 575.8Z" fill="none" stroke="#111" stroke-width="1.15"/>
<path d="M303.5 587.4L308.2 587.4L305.9 583.4Z" fill="none" stroke="#111" stroke-width="1.15"/>
<path d="M309.9 586.0L314.7 586.0L312.3 582.0Z" fill="none" stroke="#111" stroke-width="1.15"/>
<path d="M313.8 587.7L318.5 587.7L316.1 583.7Z" fill="none" stroke="#111" stroke-width="1.15"/>
<path d="M315.9 587.7L320.7 587.7L318.3 583.7Z" fill="none" stroke="#111" stroke-width="1.15"/>
<path d="M336.4 586.4L341.2 586.4L338.8 582.4Z" fill="none" stroke="#111" stroke-width="1.15"/>
<path d="M340.5 587.1L345.2 587.1L342.9 583.1Z" fill="none" stroke="#111" stroke-width="1.15"/>
<path d="M342.4 585.8L347.2 585.8L344.8 581.8Z" fill="none" stroke="#111" stroke-width="1.15"/>
<path d="M343.8 583.2L348.5 583.2L346.1 579.2Z" fill="none" stroke="#111" stroke-width="1.15"/>
<path d="M310.3 598.3L315.1 598.3L312.7 594.3Z" fill="none" stroke="#111" stroke-width="1.15"/>
<path d="M336.0 595.1L340.8 595.1L338.4 591.1Z" fill="none" stroke="#111" stroke-width="1.15"/>
<path d="M336.8 599.8L341.5 599.8L339.1 595.8Z" fill="none" stroke="#111" stroke-width="1.15"/>
<path d="M336.9 603.9L341.7 603.9L339.3 599.9Z" fill="none" stroke="#111" stroke-width="1.15"/>
<path d="M336.4 610.6L341.2 610.6L338.8 606.6Z" fill="none" stroke="#111" stroke-width="1.15"/>
<path d="M335.4 617.0L340.2 617.0L337.8 613.0Z" fill="none" stroke="#111" stroke-width="1.15"/>
<path d="M336.2 616.4L341.0 616.4L338.6 612.4Z" fill="none" stroke="#111" stroke-width="1.15"/>
<path d="M334.8 617.8L339.6 617.8L337.2 613.8Z" fill="none" stroke="#111" stroke-width="1.15"/>
<path d="M315.4 615.7L320.2 615.7L317.8 611.7Z" fill="none" stroke="#111" stroke-width="1.15"/>
<path d="M316.8 616.4L321.5 616.4L319.1 612.4Z" fill="none" stroke="#111" stroke-width="1.15"/>
<path d="M301.9 625.6L306.7 625.6L304.3 621.6Z" fill="none" stroke="#111" stroke-width="1.15"/>
<path d="M310.3 625.3L315.1 625.3L312.7 621.3Z" fill="none" stroke="#111" stroke-width="1.15"/>
<path d="M316.3 624.9L321.1 624.9L318.7 620.9Z" fill="none" stroke="#111" stroke-width="1.15"/>
<path d="M328.4 631.0L333.2 631.0L330.8 627.0Z" fill="none" stroke="#111" stroke-width="1.15"/>
<path d="M341.1 629.8L345.9 629.8L343.5 625.8Z" fill="none" stroke="#111" stroke-width="1.15"/>
<path d="M343.1 628.5L347.9 628.5L345.5 624.5Z" fill="none" stroke="#111" stroke-width="1.15"/>
<path d="M322.0 635.5L326.8 635.5L324.4 631.5Z" fill="none" stroke="#111" stroke-width="1.15"/>
<path d="M327.1 635.5L331.9 635.5L329.5 631.5Z" fill="none" stroke="#111" stroke-width="1.15"/>
<path d="M331.6 635.5L336.4 635.5L334.0 631.5Z" fill="none" stroke="#111" stroke-width="1.15"/>
<path d="M334.1 635.5L338.9 635.5L336.5 631.5Z" fill="none" stroke="#111" stroke-width="1.15"/>
<path d="M336.8 635.5L341.5 635.5L339.1 631.5Z" fill="none" stroke="#111" stroke-width="1.15"/>
<path d="M350.3 572.0L355.1 572.0L352.7 568.0Z" fill="none" stroke="#111" stroke-width="1.15"/>
<path d="M355.2 575.2L360.0 575.2L357.6 571.2Z" fill="none" stroke="#111" stroke-width="1.15"/>
<path d="M358.0 574.9L362.8 574.9L360.4 570.9Z" fill="none" stroke="#111" stroke-width="1.15"/>
<path d="M360.5 575.2L365.2 575.2L362.9 571.2Z" fill="none" stroke="#111" stroke-width="1.15"/>
<path d="M362.5 576.9L367.2 576.9L364.9 572.9Z" fill="none" stroke="#111" stroke-width="1.15"/>
<path d="M364.6 578.1L369.4 578.1L367.0 574.1Z" fill="none" stroke="#111" stroke-width="1.15"/>
<path d="M366.8 578.8L371.5 578.8L369.1 574.8Z" fill="none" stroke="#111" stroke-width="1.15"/>
<path d="M350.3 581.3L355.1 581.3L352.7 577.3Z" fill="none" stroke="#111" stroke-width="1.15"/>
<path d="M352.6 581.3L357.4 581.3L355.0 577.3Z" fill="none" stroke="#111" stroke-width="1.15"/>
<path d="M355.1 581.3L359.9 581.3L357.5 577.3Z" fill="none" stroke="#111" stroke-width="1.15"/>
<path d="M357.1 581.3L361.9 581.3L359.5 577.3Z" fill="none" stroke="#111" stroke-width="1.15"/>
<path d="M359.1 581.3L363.9 581.3L361.5 577.3Z" fill="none" stroke="#111" stroke-width="1.15"/>
<path d="M351.1 580.8L355.9 580.8L353.5 576.8Z" fill="none" stroke="#111" stroke-width="1.15"/>
<path d="M353.6 580.8L358.4 580.8L356.0 576.8Z" fill="none" stroke="#111" stroke-width="1.15"/>
<path d="M356.1 581.8L360.9 581.8L358.5 577.8Z" fill="none" stroke="#111" stroke-width="1.15"/>
<path d="M355.4 584.5L360.2 584.5L357.8 580.5Z" fill="none" stroke="#111" stroke-width="1.15"/>
<path d="M378.6 581.3L383.4 581.3L381.0 577.3Z" fill="none" stroke="#111" stroke-width="1.15"/>
<path d="M374.6 583.9L379.4 583.9L377.0 579.9Z" fill="none" stroke="#111" stroke-width="1.15"/>
<path d="M371.0 582.8L375.8 582.8L373.4 578.8Z" fill="none" stroke="#111" stroke-width="1.15"/>
<path d="M368.2 586.4L373.0 586.4L370.6 582.4Z" fill="none" stroke="#111" stroke-width="1.15"/>
<path d="M342.1 586.4L346.9 586.4L344.5 582.4Z" fill="none" stroke="#111" stroke-width="1.15"/>
<path d="M353.6 604.3L358.4 604.3L356.0 600.3Z" fill="none" stroke="#111" stroke-width="1.15"/>
<path d="M356.1 604.3L360.9 604.3L358.5 600.3Z" fill="none" stroke="#111" stroke-width="1.15"/>
<path d="M359.1 604.3L363.9 604.3L361.5 600.3Z" fill="none" stroke="#111" stroke-width="1.15"/>
<path d="M361.6 604.3L366.4 604.3L364.0 600.3Z" fill="none" stroke="#111" stroke-width="1.15"/>
<path d="M364.1 604.3L368.9 604.3L366.5 600.3Z" fill="none" stroke="#111" stroke-width="1.15"/>
<path d="M367.6 604.3L372.4 604.3L370.0 600.3Z" fill="none" stroke="#111" stroke-width="1.15"/>
<path d="M381.6 603.9L386.4 603.9L384.0 599.9Z" fill="none" stroke="#111" stroke-width="1.15"/>
<path d="M386.0 607.1L390.8 607.1L388.4 603.1Z" fill="none" stroke="#111" stroke-width="1.15"/>
<path d="M395.6 605.5L400.4 605.5L398.0 601.5Z" fill="none" stroke="#111" stroke-width="1.15"/>
<path d="M355.8 621.9L360.5 621.9L358.1 617.9Z" fill="none" stroke="#111" stroke-width="1.15"/>
<path d="M361.8 619.6L366.6 619.6L364.2 615.6Z" fill="none" stroke="#111" stroke-width="1.15"/>
<path d="M366.9 621.9L371.7 621.9L369.3 617.9Z" fill="none" stroke="#111" stroke-width="1.15"/>
<path d="M359.3 624.0L364.1 624.0L361.7 620.0Z" fill="none" stroke="#111" stroke-width="1.15"/>
<path d="M361.1 624.0L365.9 624.0L363.5 620.0Z" fill="none" stroke="#111" stroke-width="1.15"/>
<path d="M363.1 624.0L367.9 624.0L365.5 620.0Z" fill="none" stroke="#111" stroke-width="1.15"/>
<path d="M365.0 624.0L369.8 624.0L367.4 620.0Z" fill="none" stroke="#111" stroke-width="1.15"/>
<path d="M354.8 625.9L359.6 625.9L357.2 621.9Z" fill="none" stroke="#111" stroke-width="1.15"/>
<path d="M348.8 627.9L353.6 627.9L351.2 623.9Z" fill="none" stroke="#111" stroke-width="1.15"/>
<path d="M342.8 629.1L347.5 629.1L345.1 625.1Z" fill="none" stroke="#111" stroke-width="1.15"/>
<path d="M340.1 631.0L344.9 631.0L342.5 627.0Z" fill="none" stroke="#111" stroke-width="1.15"/>
<path d="M429.0 601.1L433.8 601.1L431.4 597.1Z" fill="none" stroke="#111" stroke-width="1.15"/>
<path d="M420.1 612.2L424.9 612.2L422.5 608.2Z" fill="none" stroke="#111" stroke-width="1.15"/>
<path d="M401.0 615.4L405.8 615.4L403.4 611.4Z" fill="none" stroke="#111" stroke-width="1.15"/>
<path d="M402.9 600.4L407.7 600.4L405.3 596.4Z" fill="none" stroke="#111" stroke-width="1.15"/>
<path d="M402.9 607.7L407.7 607.7L405.3 603.7Z" fill="none" stroke="#111" stroke-width="1.15"/>
<path d="M395.5 606.8L400.2 606.8L397.9 602.8Z" fill="none" stroke="#111" stroke-width="1.15"/>
<path d="M415.0 622.8L419.8 622.8L417.4 618.8Z" fill="none" stroke="#111" stroke-width="1.15"/>
<path d="M417.6 622.8L422.4 622.8L420.0 618.8Z" fill="none" stroke="#111" stroke-width="1.15"/>
<path d="M420.1 622.8L424.9 622.8L422.5 618.8Z" fill="none" stroke="#111" stroke-width="1.15"/>
<path d="M422.6 622.8L427.4 622.8L425.0 618.8Z" fill="none" stroke="#111" stroke-width="1.15"/>
<path d="M319.5 637.7L324.2 637.7L321.9 633.7Z" fill="none" stroke="#111" stroke-width="1.15"/>
<path d="M327.8 640.7L332.6 640.7L330.2 636.7Z" fill="none" stroke="#111" stroke-width="1.15"/>
<path d="M310.6 640.9L315.4 640.9L313.0 636.9Z" fill="none" stroke="#111" stroke-width="1.15"/>
<path d="M312.6 640.9L317.4 640.9L315.0 636.9Z" fill="none" stroke="#111" stroke-width="1.15"/>
<path d="M314.6 640.9L319.4 640.9L317.0 636.9Z" fill="none" stroke="#111" stroke-width="1.15"/>
<path d="M316.6 640.9L321.4 640.9L319.0 636.9Z" fill="none" stroke="#111" stroke-width="1.15"/>
<path d="M318.2 640.9L323.0 640.9L320.6 636.9Z" fill="none" stroke="#111" stroke-width="1.15"/>
<path d="M308.6 645.4L313.4 645.4L311.0 641.4Z" fill="none" stroke="#111" stroke-width="1.15"/>
<path d="M335.4 642.2L340.2 642.2L337.8 638.2Z" fill="none" stroke="#111" stroke-width="1.15"/>
<path d="M333.5 646.0L338.2 646.0L335.9 642.0Z" fill="none" stroke="#111" stroke-width="1.15"/>
<path d="M335.4 649.2L340.2 649.2L337.8 645.2Z" fill="none" stroke="#111" stroke-width="1.15"/>
<path d="M337.3 652.4L342.1 652.4L339.7 648.4Z" fill="none" stroke="#111" stroke-width="1.15"/>
<path d="M322.0 650.5L326.8 650.5L324.4 646.5Z" fill="none" stroke="#111" stroke-width="1.15"/>
<path d="M324.6 650.5L329.4 650.5L327.0 646.5Z" fill="none" stroke="#111" stroke-width="1.15"/>
<path d="M318.2 655.2L323.0 655.2L320.6 651.2Z" fill="none" stroke="#111" stroke-width="1.15"/>
<path d="M323.9 657.5L328.7 657.5L326.3 653.5Z" fill="none" stroke="#111" stroke-width="1.15"/>
<path d="M343.8 668.3L348.5 668.3L346.1 664.3Z" fill="none" stroke="#111" stroke-width="1.15"/>
<path d="M309.9 666.4L314.7 666.4L312.3 662.4Z" fill="none" stroke="#111" stroke-width="1.15"/>
<path d="M315.0 666.4L319.8 666.4L317.4 662.4Z" fill="none" stroke="#111" stroke-width="1.15"/>
<path d="M318.8 665.8L323.6 665.8L321.2 661.8Z" fill="none" stroke="#111" stroke-width="1.15"/>
<path d="M306.1 670.2L310.9 670.2L308.5 666.2Z" fill="none" stroke="#111" stroke-width="1.15"/>
<path d="M302.6 672.2L307.4 672.2L305.0 668.2Z" fill="none" stroke="#111" stroke-width="1.15"/>
<path d="M302.3 677.3L307.1 677.3L304.7 673.3Z" fill="none" stroke="#111" stroke-width="1.15"/>
<path d="M304.4 677.3L309.2 677.3L306.8 673.3Z" fill="none" stroke="#111" stroke-width="1.15"/>
<path d="M306.6 677.3L311.4 677.3L309.0 673.3Z" fill="none" stroke="#111" stroke-width="1.15"/>
<path d="M304.2 684.3L309.0 684.3L306.6 680.3Z" fill="none" stroke="#111" stroke-width="1.15"/>
<path d="M379.3 650.5L384.1 650.5L381.7 646.5Z" fill="none" stroke="#111" stroke-width="1.15"/>
<path d="M359.9 653.3L364.7 653.3L362.3 649.3Z" fill="none" stroke="#111" stroke-width="1.15"/>
<path d="M382.9 658.8L387.7 658.8L385.3 654.8Z" fill="none" stroke="#111" stroke-width="1.15"/>
<path d="M385.0 660.0L389.8 660.0L387.4 656.0Z" fill="none" stroke="#111" stroke-width="1.15"/>
<path d="M368.8 667.1L373.6 667.1L371.2 663.1Z" fill="none" stroke="#111" stroke-width="1.15"/>
<path d="M378.1 676.0L382.9 676.0L380.5 672.0Z" fill="none" stroke="#111" stroke-width="1.15"/>
<path d="M373.3 679.2L378.1 679.2L375.7 675.2Z" fill="none" stroke="#111" stroke-width="1.15"/>
<path d="M338.2 652.4L343.0 652.4L340.6 648.4Z" fill="none" stroke="#111" stroke-width="1.15"/>
<path d="M342.6 679.2L347.4 679.2L345.0 675.2Z" fill="none" stroke="#111" stroke-width="1.15"/>
<path d="M345.6 679.2L350.4 679.2L348.0 675.2Z" fill="none" stroke="#111" stroke-width="1.15"/>
<path d="M349.1 679.2L353.9 679.2L351.5 675.2Z" fill="none" stroke="#111" stroke-width="1.15"/>
<path d="M351.6 679.2L356.4 679.2L354.0 675.2Z" fill="none" stroke="#111" stroke-width="1.15"/>
<path d="M354.6 679.2L359.4 679.2L357.0 675.2Z" fill="none" stroke="#111" stroke-width="1.15"/>
<path d="M357.6 679.2L362.4 679.2L360.0 675.2Z" fill="none" stroke="#111" stroke-width="1.15"/>
<path d="M360.6 679.2L365.4 679.2L363.0 675.2Z" fill="none" stroke="#111" stroke-width="1.15"/>
<path d="M363.6 679.2L368.4 679.2L366.0 675.2Z" fill="none" stroke="#111" stroke-width="1.15"/>
<path d="M366.6 679.2L371.4 679.2L369.0 675.2Z" fill="none" stroke="#111" stroke-width="1.15"/>
<path d="M379.0 685.5L383.8 685.5L381.4 681.5Z" fill="none" stroke="#111" stroke-width="1.15"/>
<path d="M383.5 685.5L388.2 685.5L385.9 681.5Z" fill="none" stroke="#111" stroke-width="1.15"/>
<path d="M391.1 693.2L395.9 693.2L393.5 689.2Z" fill="none" stroke="#111" stroke-width="1.15"/>
<path d="M445.8 635.3L450.5 635.3L448.1 631.3Z" fill="none" stroke="#111" stroke-width="1.15"/>
<path d="M442.6 635.3L447.4 635.3L445.0 631.3Z" fill="none" stroke="#111" stroke-width="1.15"/>
<path d="M402.6 641.5L407.4 641.5L405.0 637.5Z" fill="none" stroke="#111" stroke-width="1.15"/>
<path d="M404.6 641.5L409.4 641.5L407.0 637.5Z" fill="none" stroke="#111" stroke-width="1.15"/>
<path d="M406.8 643.6L411.6 643.6L409.2 639.6Z" fill="none" stroke="#111" stroke-width="1.15"/>
<path d="M421.8 644.1L426.6 644.1L424.2 640.1Z" fill="none" stroke="#111" stroke-width="1.15"/>
<path d="M424.1 644.1L428.9 644.1L426.5 640.1Z" fill="none" stroke="#111" stroke-width="1.15"/>
<path d="M426.6 644.1L431.4 644.1L429.0 640.1Z" fill="none" stroke="#111" stroke-width="1.15"/>
<path d="M428.6 644.1L433.4 644.1L431.0 640.1Z" fill="none" stroke="#111" stroke-width="1.15"/>
<path d="M431.1 644.1L435.9 644.1L433.5 640.1Z" fill="none" stroke="#111" stroke-width="1.15"/>
<path d="M423.6 650.8L428.4 650.8L426.0 646.8Z" fill="none" stroke="#111" stroke-width="1.15"/>
<path d="M426.1 651.8L430.9 651.8L428.5 647.8Z" fill="none" stroke="#111" stroke-width="1.15"/>
<path d="M428.6 652.8L433.4 652.8L431.0 648.8Z" fill="none" stroke="#111" stroke-width="1.15"/>
<path d="M426.6 650.3L431.4 650.3L429.0 646.3Z" fill="none" stroke="#111" stroke-width="1.15"/>
<path d="M451.8 653.3L456.6 653.3L454.2 649.3Z" fill="none" stroke="#111" stroke-width="1.15"/>
<path d="M449.5 657.5L454.2 657.5L451.9 653.5Z" fill="none" stroke="#111" stroke-width="1.15"/>
<path d="M445.8 661.0L450.5 661.0L448.1 657.0Z" fill="none" stroke="#111" stroke-width="1.15"/>
<path d="M402.1 663.3L406.9 663.3L404.5 659.3Z" fill="none" stroke="#111" stroke-width="1.15"/>
<path d="M429.2 666.8L434.0 666.8L431.6 662.8Z" fill="none" stroke="#111" stroke-width="1.15"/>
<path d="M431.6 666.8L436.4 666.8L434.0 662.8Z" fill="none" stroke="#111" stroke-width="1.15"/>
<path d="M434.0 666.8L438.8 666.8L436.4 662.8Z" fill="none" stroke="#111" stroke-width="1.15"/>
<path d="M436.4 666.8L441.2 666.8L438.8 662.8Z" fill="none" stroke="#111" stroke-width="1.15"/>
<path d="M438.8 666.8L443.6 666.8L441.2 662.8Z" fill="none" stroke="#111" stroke-width="1.15"/>
<path d="M441.1 666.8L445.9 666.8L443.5 662.8Z" fill="none" stroke="#111" stroke-width="1.15"/>
<path d="M449.8 673.3L454.6 673.3L452.2 669.3Z" fill="none" stroke="#111" stroke-width="1.15"/>
<path d="M431.4 676.0L436.2 676.0L433.8 672.0Z" fill="none" stroke="#111" stroke-width="1.15"/>
<path d="M421.5 680.3L426.2 680.3L423.9 676.3Z" fill="none" stroke="#111" stroke-width="1.15"/>
<path d="M414.9 684.9L419.7 684.9L417.3 680.9Z" fill="none" stroke="#111" stroke-width="1.15"/>
<path d="M428.8 684.1L433.6 684.1L431.2 680.1Z" fill="none" stroke="#111" stroke-width="1.15"/>
<path d="M432.9 684.9L437.7 684.9L435.3 680.9Z" fill="none" stroke="#111" stroke-width="1.15"/>
<path d="M441.1 684.6L445.9 684.6L443.5 680.6Z" fill="none" stroke="#111" stroke-width="1.15"/>
<path d="M401.6 683.8L406.4 683.8L404.0 679.8Z" fill="none" stroke="#111" stroke-width="1.15"/>
<path d="M403.6 683.3L408.4 683.3L406.0 679.3Z" fill="none" stroke="#111" stroke-width="1.15"/>
<path d="M405.6 684.3L410.4 684.3L408.0 680.3Z" fill="none" stroke="#111" stroke-width="1.15"/>
<path d="M407.6 683.8L412.4 683.8L410.0 679.8Z" fill="none" stroke="#111" stroke-width="1.15"/>
<path d="M369.4 601.2L374.1 601.2L371.8 597.2Z" fill="none" stroke="#111" stroke-width="1.15"/>
<path d="M370.7 600.0L375.4 600.0L373.1 596.0Z" fill="none" stroke="#111" stroke-width="1.15"/>
<path d="M371.6 599.2L376.3 599.2L374.0 595.2Z" fill="none" stroke="#111" stroke-width="1.15"/>
<path d="M372.3 598.3L377.0 598.3L374.6 594.3Z" fill="none" stroke="#111" stroke-width="1.15"/>
<path d="M373.9 597.7L378.6 597.7L376.2 593.7Z" fill="none" stroke="#111" stroke-width="1.15"/>
<path d="M375.5 596.8L380.2 596.8L377.9 592.8Z" fill="none" stroke="#111" stroke-width="1.15"/>
<path d="M377.1 597.8L381.8 597.8L379.4 593.8Z" fill="none" stroke="#111" stroke-width="1.15"/>
<path d="M378.1 597.2L382.8 597.2L380.5 593.2Z" fill="none" stroke="#111" stroke-width="1.15"/>
<path d="M379.8 598.2L384.5 598.2L382.1 594.2Z" fill="none" stroke="#111" stroke-width="1.15"/>
<path d="M381.0 597.6L385.7 597.6L383.4 593.6Z" fill="none" stroke="#111" stroke-width="1.15"/>
<path d="M382.6 597.3L387.3 597.3L385.0 593.3Z" fill="none" stroke="#111" stroke-width="1.15"/>
<path d="M383.6 598.4L388.3 598.4L385.9 594.4Z" fill="none" stroke="#111" stroke-width="1.15"/>
<path d="M384.0 598.9L388.7 598.9L386.4 594.9Z" fill="none" stroke="#111" stroke-width="1.15"/>
<path d="M385.2 600.5L389.9 600.5L387.5 596.5Z" fill="none" stroke="#111" stroke-width="1.15"/>
<path d="M386.1 601.0L390.8 601.0L388.4 597.0Z" fill="none" stroke="#111" stroke-width="1.15"/>
<path d="M387.5 601.5L392.2 601.5L389.8 597.5Z" fill="none" stroke="#111" stroke-width="1.15"/>
<path d="M388.7 601.1L393.4 601.1L391.0 597.1Z" fill="none" stroke="#111" stroke-width="1.15"/>
<path d="M389.6 601.3L394.3 601.3L391.9 597.3Z" fill="none" stroke="#111" stroke-width="1.15"/>
<path d="M390.6 600.3L395.3 600.3L393.0 596.3Z" fill="none" stroke="#111" stroke-width="1.15"/>
<path d="M390.9 599.2L395.6 599.2L393.2 595.2Z" fill="none" stroke="#111" stroke-width="1.15"/>
<path d="M391.5 597.6L396.2 597.6L393.9 593.6Z" fill="none" stroke="#111" stroke-width="1.15"/>
<path d="M392.4 596.8L397.1 596.8L394.7 592.8Z" fill="none" stroke="#111" stroke-width="1.15"/>
<path d="M392.5 595.4L397.2 595.4L394.8 591.4Z" fill="none" stroke="#111" stroke-width="1.15"/>
<path d="M393.2 594.5L397.9 594.5L395.6 590.5Z" fill="none" stroke="#111" stroke-width="1.15"/>
<path d="M393.9 592.5L398.6 592.5L396.3 588.5Z" fill="none" stroke="#111" stroke-width="1.15"/>
<path d="M395.4 591.0L400.1 591.0L397.7 587.0Z" fill="none" stroke="#111" stroke-width="1.15"/>
<path d="M396.2 590.5L400.9 590.5L398.5 586.5Z" fill="none" stroke="#111" stroke-width="1.15"/>
<path d="M396.8 591.2L401.5 591.2L399.1 587.2Z" fill="none" stroke="#111" stroke-width="1.15"/>
<path d="M397.5 592.4L402.2 592.4L399.9 588.4Z" fill="none" stroke="#111" stroke-width="1.15"/>
<path d="M398.9 593.3L403.6 593.3L401.3 589.3Z" fill="none" stroke="#111" stroke-width="1.15"/>
<path d="M399.8 594.0L404.5 594.0L402.2 590.0Z" fill="none" stroke="#111" stroke-width="1.15"/>
<path d="M401.8 605.0L406.5 605.0L404.2 601.0Z" fill="none" stroke="#111" stroke-width="1.15"/>
<path d="M403.1 604.8L407.8 604.8L405.4 600.8Z" fill="none" stroke="#111" stroke-width="1.15"/>
<path d="M404.6 605.4L409.3 605.4L407.0 601.4Z" fill="none" stroke="#111" stroke-width="1.15"/>
<path d="M405.7 605.1L410.4 605.1L408.1 601.1Z" fill="none" stroke="#111" stroke-width="1.15"/>
<path d="M406.7 605.1L411.4 605.1L409.1 601.1Z" fill="none" stroke="#111" stroke-width="1.15"/>
<path d="M408.6 605.5L413.3 605.5L410.9 601.5Z" fill="none" stroke="#111" stroke-width="1.15"/>
<path d="M410.1 604.6L414.8 604.6L412.4 600.6Z" fill="none" stroke="#111" stroke-width="1.15"/>
<path d="M411.1 605.1L415.8 605.1L413.4 601.1Z" fill="none" stroke="#111" stroke-width="1.15"/>
<path d="M412.1 604.8L416.8 604.8L414.5 600.8Z" fill="none" stroke="#111" stroke-width="1.15"/>
<path d="M413.6 604.4L418.3 604.4L416.0 600.4Z" fill="none" stroke="#111" stroke-width="1.15"/>
<path d="M414.9 605.2L419.6 605.2L417.2 601.2Z" fill="none" stroke="#111" stroke-width="1.15"/>
<path d="M416.3 604.6L421.0 604.6L418.7 600.6Z" fill="none" stroke="#111" stroke-width="1.15"/>
<path d="M417.9 605.3L422.6 605.3L420.2 601.3Z" fill="none" stroke="#111" stroke-width="1.15"/>
<path d="M419.0 604.8L423.7 604.8L421.3 600.8Z" fill="none" stroke="#111" stroke-width="1.15"/>
<path d="M420.7 605.3L425.4 605.3L423.1 601.3Z" fill="none" stroke="#111" stroke-width="1.15"/>
<path d="M324.9 634.9L329.6 634.9L327.3 630.9Z" fill="none" stroke="#111" stroke-width="1.15"/>
<path d="M326.3 634.4L331.0 634.4L328.6 630.4Z" fill="none" stroke="#111" stroke-width="1.15"/>
<path d="M328.2 634.9L332.9 634.9L330.5 630.9Z" fill="none" stroke="#111" stroke-width="1.15"/>
<path d="M330.5 634.0L335.2 634.0L332.8 630.0Z" fill="none" stroke="#111" stroke-width="1.15"/>
<path d="M331.6 634.1L336.3 634.1L334.0 630.1Z" fill="none" stroke="#111" stroke-width="1.15"/>
<path d="M333.5 634.4L338.2 634.4L335.9 630.4Z" fill="none" stroke="#111" stroke-width="1.15"/>
<path d="M335.6 634.2L340.3 634.2L338.0 630.2Z" fill="none" stroke="#111" stroke-width="1.15"/>
<path d="M330.7 667.0L335.4 667.0L333.0 663.0Z" fill="none" stroke="#111" stroke-width="1.15"/>
<path d="M333.6 668.4L338.3 668.4L336.0 664.4Z" fill="none" stroke="#111" stroke-width="1.15"/>
<path d="M338.3 669.7L343.0 669.7L340.6 665.7Z" fill="none" stroke="#111" stroke-width="1.15"/>
<path d="M334.8 668.9L339.5 668.9L337.1 664.9Z" fill="none" stroke="#111" stroke-width="1.15"/>
<path d="M336.1 663.3L340.8 663.3L338.4 659.3Z" fill="none" stroke="#111" stroke-width="1.15"/>
<path d="M337.8 670.6L342.5 670.6L340.2 666.6Z" fill="none" stroke="#111" stroke-width="1.15"/>
<path d="M337.6 670.7L342.3 670.7L340.0 666.7Z" fill="none" stroke="#111" stroke-width="1.15"/>
<path d="M333.8 666.8L338.5 666.8L336.1 662.8Z" fill="none" stroke="#111" stroke-width="1.15"/>
<path d="M331.5 669.1L336.2 669.1L333.8 665.1Z" fill="none" stroke="#111" stroke-width="1.15"/>
<path d="M331.1 663.4L335.8 663.4L333.5 659.4Z" fill="none" stroke="#111" stroke-width="1.15"/>
<path d="M332.3 664.4L337.0 664.4L334.7 660.4Z" fill="none" stroke="#111" stroke-width="1.15"/>
<path d="M333.4 663.3L338.1 663.3L335.7 659.3Z" fill="none" stroke="#111" stroke-width="1.15"/>
<path d="M330.7 664.3L335.4 664.3L333.0 660.3Z" fill="none" stroke="#111" stroke-width="1.15"/>
<path d="M331.5 666.4L336.2 666.4L333.8 662.4Z" fill="none" stroke="#111" stroke-width="1.15"/>
<path d="M316.8 674.3L321.5 674.3L319.2 670.3Z" fill="none" stroke="#111" stroke-width="1.15"/>
<path d="M320.9 668.9L325.6 668.9L323.3 664.9Z" fill="none" stroke="#111" stroke-width="1.15"/>
<path d="M318.4 670.4L323.1 670.4L320.8 666.4Z" fill="none" stroke="#111" stroke-width="1.15"/>
<path d="M319.2 668.7L323.9 668.7L321.5 664.7Z" fill="none" stroke="#111" stroke-width="1.15"/>
<path d="M322.6 675.2L327.3 675.2L324.9 671.2Z" fill="none" stroke="#111" stroke-width="1.15"/>
<path d="M319.9 671.4L324.6 671.4L322.3 667.4Z" fill="none" stroke="#111" stroke-width="1.15"/>
<path d="M317.3 668.5L322.0 668.5L319.6 664.5Z" fill="none" stroke="#111" stroke-width="1.15"/>
<path d="M319.0 669.7L323.7 669.7L321.4 665.8Z" fill="none" stroke="#111" stroke-width="1.15"/>
<path d="M322.5 669.0L327.2 669.0L324.8 665.0Z" fill="none" stroke="#111" stroke-width="1.15"/>
<path d="M316.8 674.9L321.5 674.9L319.2 670.9Z" fill="none" stroke="#111" stroke-width="1.15"/>
<path d="M320.3 668.9L325.0 668.9L322.7 664.9Z" fill="none" stroke="#111" stroke-width="1.15"/>
<path d="M320.5 668.0L325.2 668.0L322.8 664.0Z" fill="none" stroke="#111" stroke-width="1.15"/>
<path d="M323.0 682.6L327.7 682.6L325.4 678.6Z" fill="none" stroke="#111" stroke-width="1.15"/>
<path d="M328.4 680.5L333.1 680.5L330.8 676.5Z" fill="none" stroke="#111" stroke-width="1.15"/>
<path d="M318.7 678.0L323.4 678.0L321.0 674.0Z" fill="none" stroke="#111" stroke-width="1.15"/>
<path d="M317.2 681.1L321.9 681.1L319.5 677.1Z" fill="none" stroke="#111" stroke-width="1.15"/>
<path d="M323.1 681.1L327.8 681.1L325.4 677.1Z" fill="none" stroke="#111" stroke-width="1.15"/>
<path d="M319.8 676.9L324.5 676.9L322.1 672.9Z" fill="none" stroke="#111" stroke-width="1.15"/>
<path d="M327.6 682.6L332.3 682.6L329.9 678.7Z" fill="none" stroke="#111" stroke-width="1.15"/>
<path d="M328.3 681.3L333.0 681.3L330.6 677.3Z" fill="none" stroke="#111" stroke-width="1.15"/>
<path d="M327.7 680.8L332.4 680.8L330.1 676.8Z" fill="none" stroke="#111" stroke-width="1.15"/>
<path d="M318.1 679.1L322.8 679.1L320.5 675.1Z" fill="none" stroke="#111" stroke-width="1.15"/>
<path d="M320.2 675.5L324.9 675.5L322.6 671.5Z" fill="none" stroke="#111" stroke-width="1.15"/>
<path d="M314.9 677.4L319.6 677.4L317.3 673.4Z" fill="none" stroke="#111" stroke-width="1.15"/>
<path d="M318.6 680.5L323.3 680.5L321.0 676.5Z" fill="none" stroke="#111" stroke-width="1.15"/>
<path d="M329.9 678.6L334.6 678.6L332.3 674.6Z" fill="none" stroke="#111" stroke-width="1.15"/>
<path d="M329.6 682.7L334.3 682.7L332.0 678.7Z" fill="none" stroke="#111" stroke-width="1.15"/>
<path d="M329.9 678.0L334.6 678.0L332.3 674.0Z" fill="none" stroke="#111" stroke-width="1.15"/>
<path d="M318.0 677.0L322.7 677.0L320.4 673.0Z" fill="none" stroke="#111" stroke-width="1.15"/>
<path d="M317.6 676.8L322.3 676.8L320.0 672.8Z" fill="none" stroke="#111" stroke-width="1.15"/>
<path d="M356.5 691.9L361.2 691.9L358.8 687.9Z" fill="none" stroke="#111" stroke-width="1.15"/>
<path d="M373.3 690.2L378.0 690.2L375.6 686.2Z" fill="none" stroke="#111" stroke-width="1.15"/>
<path d="M358.7 691.5L363.4 691.5L361.1 687.5Z" fill="none" stroke="#111" stroke-width="1.15"/>
<path d="M314.6 690.9L319.3 690.9L317.0 686.9Z" fill="none" stroke="#111" stroke-width="1.15"/>
<path d="M378.6 691.4L383.3 691.4L381.0 687.4Z" fill="none" stroke="#111" stroke-width="1.15"/>
<path d="M366.3 690.2L371.0 690.2L368.6 686.2Z" fill="none" stroke="#111" stroke-width="1.15"/>
<path d="M321.9 691.4L326.6 691.4L324.3 687.4Z" fill="none" stroke="#111" stroke-width="1.15"/>
<path d="M333.9 691.5L338.6 691.5L336.2 687.5Z" fill="none" stroke="#111" stroke-width="1.15"/>
<path d="M383.5 689.8L388.2 689.8L385.8 685.9Z" fill="none" stroke="#111" stroke-width="1.15"/>
<path d="M339.2 692.0L343.9 692.0L341.5 688.1Z" fill="none" stroke="#111" stroke-width="1.15"/>
<path d="M364.3 688.9L369.0 688.9L366.6 684.9Z" fill="none" stroke="#111" stroke-width="1.15"/>
<path d="M317.9 688.9L322.6 688.9L320.3 684.9Z" fill="none" stroke="#111" stroke-width="1.15"/>
<path d="M378.3 691.5L383.0 691.5L380.6 687.5Z" fill="none" stroke="#111" stroke-width="1.15"/>
<path d="M319.4 691.6L324.1 691.6L321.7 687.6Z" fill="none" stroke="#111" stroke-width="1.15"/>
<path d="M384.1 690.9L388.8 690.9L386.5 686.9Z" fill="none" stroke="#111" stroke-width="1.15"/>
<path d="M335.2 690.5L339.9 690.5L337.6 686.5Z" fill="none" stroke="#111" stroke-width="1.15"/>
<path d="M318.2 688.3L322.9 688.3L320.6 684.3Z" fill="none" stroke="#111" stroke-width="1.15"/>
<path d="M383.4 690.9L388.1 690.9L385.7 686.9Z" fill="none" stroke="#111" stroke-width="1.15"/>
<path d="M348.9 692.0L353.6 692.0L351.3 688.0Z" fill="none" stroke="#111" stroke-width="1.15"/>
<path d="M341.7 691.7L346.4 691.7L344.1 687.8Z" fill="none" stroke="#111" stroke-width="1.15"/>
<path d="M372.2 689.1L376.9 689.1L374.5 685.1Z" fill="none" stroke="#111" stroke-width="1.15"/>
<path d="M327.6 689.4L332.3 689.4L329.9 685.4Z" fill="none" stroke="#111" stroke-width="1.15"/>
<path d="M326.7 690.6L331.4 690.6L329.1 686.6Z" fill="none" stroke="#111" stroke-width="1.15"/>
<path d="M328.2 689.9L332.9 689.9L330.5 685.9Z" fill="none" stroke="#111" stroke-width="1.15"/>
<path d="M318.2 691.9L322.9 691.9L320.6 687.9Z" fill="none" stroke="#111" stroke-width="1.15"/>
<path d="M335.5 690.1L340.2 690.1L337.9 686.1Z" fill="none" stroke="#111" stroke-width="1.15"/>
<path d="M353.3 691.9L358.0 691.9L355.7 687.9Z" fill="none" stroke="#111" stroke-width="1.15"/>
<path d="M340.7 691.9L345.4 691.9L343.0 687.9Z" fill="none" stroke="#111" stroke-width="1.15"/>
<path d="M347.0 690.4L351.7 690.4L349.3 686.4Z" fill="none" stroke="#111" stroke-width="1.15"/>
<path d="M348.7 688.3L353.4 688.3L351.0 684.3Z" fill="none" stroke="#111" stroke-width="1.15"/>
<path d="M342.2 689.0L346.9 689.0L344.6 685.0Z" fill="none" stroke="#111" stroke-width="1.15"/>
<path d="M308.4 691.5L313.1 691.5L310.7 687.5Z" fill="none" stroke="#111" stroke-width="1.15"/>
<path d="M321.4 690.2L326.1 690.2L323.8 686.2Z" fill="none" stroke="#111" stroke-width="1.15"/>
<path d="M364.3 690.5L369.0 690.5L366.7 686.5Z" fill="none" stroke="#111" stroke-width="1.15"/>
<path d="M333.3 690.3L338.0 690.3L335.7 686.3Z" fill="none" stroke="#111" stroke-width="1.15"/>
<path d="M351.2 691.4L355.9 691.4L353.5 687.4Z" fill="none" stroke="#111" stroke-width="1.15"/>
<path d="M316.3 690.5L321.0 690.5L318.6 686.5Z" fill="none" stroke="#111" stroke-width="1.15"/>
<path d="M327.3 689.4L332.0 689.4L329.7 685.4Z" fill="none" stroke="#111" stroke-width="1.15"/>
<path d="M368.0 690.3L372.7 690.3L370.3 686.3Z" fill="none" stroke="#111" stroke-width="1.15"/>
<path d="M351.6 691.3L356.3 691.3L354.0 687.3Z" fill="none" stroke="#111" stroke-width="1.15"/>
<path d="M378.9 690.0L383.6 690.0L381.2 686.0Z" fill="none" stroke="#111" stroke-width="1.15"/>
<path d="M355.6 690.3L360.3 690.3L357.9 686.3Z" fill="none" stroke="#111" stroke-width="1.15"/>
<path d="M347.8 691.0L352.5 691.0L350.1 687.0Z" fill="none" stroke="#111" stroke-width="1.15"/>
<path d="M343.2 690.4L347.9 690.4L345.5 686.4Z" fill="none" stroke="#111" stroke-width="1.15"/>
<path d="M345.1 692.0L349.8 692.0L347.5 688.0Z" fill="none" stroke="#111" stroke-width="1.15"/>
<path d="M362.3 691.8L367.0 691.8L364.7 687.8Z" fill="none" stroke="#111" stroke-width="1.15"/>
<path d="M381.2 689.3L385.9 689.3L383.5 685.3Z" fill="none" stroke="#111" stroke-width="1.15"/>
<path d="M351.5 692.0L356.2 692.0L353.8 688.0Z" fill="none" stroke="#111" stroke-width="1.15"/>
<path d="M423.8 688.8L428.5 688.8L426.2 684.8Z" fill="none" stroke="#111" stroke-width="1.15"/>
<path d="M402.3 690.0L407.0 690.0L404.6 686.0Z" fill="none" stroke="#111" stroke-width="1.15"/>
<path d="M400.8 689.2L405.5 689.2L403.2 685.2Z" fill="none" stroke="#111" stroke-width="1.15"/>
<path d="M400.8 690.9L405.5 690.9L403.2 686.9Z" fill="none" stroke="#111" stroke-width="1.15"/>
<path d="M422.2 691.9L426.9 691.9L424.5 687.9Z" fill="none" stroke="#111" stroke-width="1.15"/>
<path d="M403.3 691.1L408.0 691.1L405.6 687.1Z" fill="none" stroke="#111" stroke-width="1.15"/>
<path d="M418.5 688.8L423.2 688.8L420.8 684.8Z" fill="none" stroke="#111" stroke-width="1.15"/>
<path d="M425.1 692.1L429.8 692.1L427.5 688.1Z" fill="none" stroke="#111" stroke-width="1.15"/>
<path d="M405.2 692.1L409.9 692.1L407.6 688.1Z" fill="none" stroke="#111" stroke-width="1.15"/>
<path d="M410.6 690.2L415.3 690.2L412.9 686.2Z" fill="none" stroke="#111" stroke-width="1.15"/>
<path d="M428.3 691.6L433.0 691.6L430.7 687.6Z" fill="none" stroke="#111" stroke-width="1.15"/>
<path d="M403.5 690.0L408.2 690.0L405.8 686.0Z" fill="none" stroke="#111" stroke-width="1.15"/>
<path d="M414.1 689.6L418.8 689.6L416.5 685.6Z" fill="none" stroke="#111" stroke-width="1.15"/>
<path d="M404.5 689.5L409.2 689.5L406.9 685.5Z" fill="none" stroke="#111" stroke-width="1.15"/>
<path d="M420.3 688.3L425.0 688.3L422.7 684.3Z" fill="none" stroke="#111" stroke-width="1.15"/>
<path d="M415.3 690.0L420.0 690.0L417.6 686.0Z" fill="none" stroke="#111" stroke-width="1.15"/>
<path d="M399.2 689.6L403.9 689.6L401.5 685.6Z" fill="none" stroke="#111" stroke-width="1.15"/>
<path d="M417.4 690.3L422.1 690.3L419.7 686.3Z" fill="none" stroke="#111" stroke-width="1.15"/>
<path d="M335.2 692.3L339.9 692.3L337.5 688.3Z" fill="none" stroke="#111" stroke-width="1.15"/>
<path d="M336.6 691.9L341.3 691.9L339.0 687.9Z" fill="none" stroke="#111" stroke-width="1.15"/>
<path d="M335.3 670.0L340.0 670.0L337.6 666.0Z" fill="none" stroke="#111" stroke-width="1.15"/>
<path d="M335.1 685.9L339.8 685.9L337.5 681.9Z" fill="none" stroke="#111" stroke-width="1.15"/>
<path d="M335.6 665.8L340.3 665.8L337.9 661.8Z" fill="none" stroke="#111" stroke-width="1.15"/>
<path d="M335.9 690.0L340.6 690.0L338.2 686.0Z" fill="none" stroke="#111" stroke-width="1.15"/>
<path d="M336.7 669.8L341.4 669.8L339.0 665.8Z" fill="none" stroke="#111" stroke-width="1.15"/>
<path d="M335.3 690.3L340.0 690.3L337.7 686.3Z" fill="none" stroke="#111" stroke-width="1.15"/>
<path d="M336.2 683.5L340.9 683.5L338.5 679.5Z" fill="none" stroke="#111" stroke-width="1.15"/>
<path d="M335.2 663.5L339.9 663.5L337.6 659.6Z" fill="none" stroke="#111" stroke-width="1.15"/>
<path d="M336.4 674.9L341.1 674.9L338.8 671.0Z" fill="none" stroke="#111" stroke-width="1.15"/>
<path d="M335.2 690.9L339.9 690.9L337.5 686.9Z" fill="none" stroke="#111" stroke-width="1.15"/>
<path d="M336.3 686.6L341.0 686.6L338.7 682.6Z" fill="none" stroke="#111" stroke-width="1.15"/>
<path d="M335.2 688.3L339.9 688.3L337.6 684.3Z" fill="none" stroke="#111" stroke-width="1.15"/>
<path d="M335.2 688.5L339.9 688.5L337.5 684.5Z" fill="none" stroke="#111" stroke-width="1.15"/>
<path d="M336.0 672.3L340.7 672.3L338.3 668.3Z" fill="none" stroke="#111" stroke-width="1.15"/>
<path d="M449.7 682.8L454.4 682.8L452.0 678.8Z" fill="none" stroke="#111" stroke-width="1.15"/>
<path d="M447.2 677.3L451.9 677.3L449.6 673.3Z" fill="none" stroke="#111" stroke-width="1.15"/>
<path d="M449.4 678.0L454.1 678.0L451.8 674.0Z" fill="none" stroke="#111" stroke-width="1.15"/>
<path d="M445.9 677.5L450.6 677.5L448.2 673.5Z" fill="none" stroke="#111" stroke-width="1.15"/>
<path d="M445.4 677.8L450.1 677.8L447.7 673.8Z" fill="none" stroke="#111" stroke-width="1.15"/>
<path d="M447.6 678.5L452.3 678.5L450.0 674.5Z" fill="none" stroke="#111" stroke-width="1.15"/>
<path d="M451.4 678.4L456.1 678.4L453.8 674.4Z" fill="none" stroke="#111" stroke-width="1.15"/>
<path d="M449.2 677.6L453.9 677.6L451.6 673.6Z" fill="none" stroke="#111" stroke-width="1.15"/>
<path d="M447.9 676.5L452.6 676.5L450.2 672.5Z" fill="none" stroke="#111" stroke-width="1.15"/>
<path d="M447.1 676.5L451.8 676.5L449.4 672.5Z" fill="none" stroke="#111" stroke-width="1.15"/>
<path d="M450.9 690.5L455.6 690.5L453.2 686.5Z" fill="none" stroke="#111" stroke-width="1.15"/>
<path d="M446.3 690.1L451.0 690.1L448.6 686.1Z" fill="none" stroke="#111" stroke-width="1.15"/>
<path d="M452.6 688.3L457.3 688.3L454.9 684.3Z" fill="none" stroke="#111" stroke-width="1.15"/>
<path d="M451.6 689.9L456.3 689.9L454.0 685.9Z" fill="none" stroke="#111" stroke-width="1.15"/>
<path d="M448.9 691.9L453.6 691.9L451.2 687.9Z" fill="none" stroke="#111" stroke-width="1.15"/>
<path d="M448.0 690.3L452.7 690.3L450.3 686.3Z" fill="none" stroke="#111" stroke-width="1.15"/>
<path d="M450.5 692.7L455.2 692.7L452.8 688.7Z" fill="none" stroke="#111" stroke-width="1.15"/>
<path d="M447.6 691.9L452.3 691.9L449.9 687.9Z" fill="none" stroke="#111" stroke-width="1.15"/>
<path d="M450.7 690.9L455.4 690.9L453.0 686.9Z" fill="none" stroke="#111" stroke-width="1.15"/>
<path d="M448.1 689.5L452.8 689.5L450.4 685.5Z" fill="none" stroke="#111" stroke-width="1.15"/>
<circle cx="251.8" cy="543.8" r="2.0" fill="none" stroke="#111" stroke-width="1.2"/>
<circle cx="257.4" cy="570.0" r="2.0" fill="none" stroke="#111" stroke-width="1.2"/>
<circle cx="218.1" cy="609.5" r="2.0" fill="none" stroke="#111" stroke-width="1.2"/>
<circle cx="241.4" cy="627.5" r="2.0" fill="none" stroke="#111" stroke-width="1.2"/>
<circle cx="240.4" cy="668.8" r="2.0" fill="none" stroke="#111" stroke-width="1.2"/>
<circle cx="255.2" cy="673.0" r="2.0" fill="none" stroke="#111" stroke-width="1.2"/>
<circle cx="218.1" cy="683.4" r="2.0" fill="none" stroke="#111" stroke-width="1.2"/>
<circle cx="226.6" cy="691.3" r="2.0" fill="none" stroke="#111" stroke-width="1.2"/>
<circle cx="272.9" cy="691.3" r="2.0" fill="none" stroke="#111" stroke-width="1.2"/>
<circle cx="311.8" cy="551.4" r="2.0" fill="none" stroke="#111" stroke-width="1.2"/>
<circle cx="347.0" cy="578.5" r="2.0" fill="none" stroke="#111" stroke-width="1.2"/>
<circle cx="346.7" cy="603.4" r="2.0" fill="none" stroke="#111" stroke-width="1.2"/>
<circle cx="311.9" cy="613.6" r="2.0" fill="none" stroke="#111" stroke-width="1.2"/>
<circle cx="348.0" cy="616.5" r="2.0" fill="none" stroke="#111" stroke-width="1.2"/>
<circle cx="334.9" cy="620.3" r="2.0" fill="none" stroke="#111" stroke-width="1.2"/>
<circle cx="347.4" cy="624.8" r="2.0" fill="none" stroke="#111" stroke-width="1.2"/>
<circle cx="323.4" cy="629.9" r="2.0" fill="none" stroke="#111" stroke-width="1.2"/>
<circle cx="371.6" cy="554.0" r="2.0" fill="none" stroke="#111" stroke-width="1.2"/>
<circle cx="361.7" cy="585.3" r="2.0" fill="none" stroke="#111" stroke-width="1.2"/>
<circle cx="372.1" cy="589.5" r="2.0" fill="none" stroke="#111" stroke-width="1.2"/>
<circle cx="359.4" cy="597.4" r="2.0" fill="none" stroke="#111" stroke-width="1.2"/>
<circle cx="371.9" cy="596.1" r="2.0" fill="none" stroke="#111" stroke-width="1.2"/>
<circle cx="379.3" cy="606.3" r="2.0" fill="none" stroke="#111" stroke-width="1.2"/>
<circle cx="371.2" cy="603.7" r="2.0" fill="none" stroke="#111" stroke-width="1.2"/>
<circle cx="391.9" cy="619.3" r="2.0" fill="none" stroke="#111" stroke-width="1.2"/>
<circle cx="398.0" cy="612.4" r="2.0" fill="none" stroke="#111" stroke-width="1.2"/>
<circle cx="399.3" cy="617.5" r="2.0" fill="none" stroke="#111" stroke-width="1.2"/>
<circle cx="373.4" cy="624.4" r="2.0" fill="none" stroke="#111" stroke-width="1.2"/>
<circle cx="371.2" cy="628.0" r="2.0" fill="none" stroke="#111" stroke-width="1.2"/>
<circle cx="398.7" cy="587.2" r="2.0" fill="none" stroke="#111" stroke-width="1.2"/>
<circle cx="402.7" cy="591.6" r="2.0" fill="none" stroke="#111" stroke-width="1.2"/>
<circle cx="398.7" cy="603.1" r="2.0" fill="none" stroke="#111" stroke-width="1.2"/>
<circle cx="400.8" cy="617.1" r="2.0" fill="none" stroke="#111" stroke-width="1.2"/>
<circle cx="405.0" cy="621.2" r="2.0" fill="none" stroke="#111" stroke-width="1.2"/>
<circle cx="416.4" cy="625.4" r="2.0" fill="none" stroke="#111" stroke-width="1.2"/>
<circle cx="424.4" cy="627.3" r="2.0" fill="none" stroke="#111" stroke-width="1.2"/>
<circle cx="424.4" cy="606.9" r="2.0" fill="none" stroke="#111" stroke-width="1.2"/>
<circle cx="426.0" cy="635.0" r="2.0" fill="none" stroke="#111" stroke-width="1.2"/>
<circle cx="342.3" cy="639.1" r="2.0" fill="none" stroke="#111" stroke-width="1.2"/>
<circle cx="330.5" cy="657.0" r="2.0" fill="none" stroke="#111" stroke-width="1.2"/>
<circle cx="330.5" cy="661.4" r="2.0" fill="none" stroke="#111" stroke-width="1.2"/>
<circle cx="346.1" cy="666.5" r="2.0" fill="none" stroke="#111" stroke-width="1.2"/>
<circle cx="303.1" cy="673.5" r="2.0" fill="none" stroke="#111" stroke-width="1.2"/>
<circle cx="371.9" cy="639.8" r="2.0" fill="none" stroke="#111" stroke-width="1.2"/>
<circle cx="349.6" cy="643.3" r="2.0" fill="none" stroke="#111" stroke-width="1.2"/>
<circle cx="372.9" cy="648.3" r="2.0" fill="none" stroke="#111" stroke-width="1.2"/>
<circle cx="396.7" cy="650.3" r="2.0" fill="none" stroke="#111" stroke-width="1.2"/>
<circle cx="351.2" cy="654.4" r="2.0" fill="none" stroke="#111" stroke-width="1.2"/>
<circle cx="372.9" cy="656.1" r="2.0" fill="none" stroke="#111" stroke-width="1.2"/>
<circle cx="346.4" cy="667.2" r="2.0" fill="none" stroke="#111" stroke-width="1.2"/>
<circle cx="394.0" cy="685.0" r="2.0" fill="none" stroke="#111" stroke-width="1.2"/>
<circle cx="397.0" cy="685.0" r="2.0" fill="none" stroke="#111" stroke-width="1.2"/>
<circle cx="359.1" cy="686.3" r="2.0" fill="none" stroke="#111" stroke-width="1.2"/>
<circle cx="362.3" cy="684.4" r="2.0" fill="none" stroke="#111" stroke-width="1.2"/>
<circle cx="436.8" cy="655.7" r="2.0" fill="none" stroke="#111" stroke-width="1.2"/>
<circle cx="446.5" cy="656.2" r="2.0" fill="none" stroke="#111" stroke-width="1.2"/>
<circle cx="429.6" cy="665.8" r="2.0" fill="none" stroke="#111" stroke-width="1.2"/>
<circle cx="408.5" cy="676.6" r="2.0" fill="none" stroke="#111" stroke-width="1.2"/>
<circle cx="404.2" cy="679.2" r="2.0" fill="none" stroke="#111" stroke-width="1.2"/>
<circle cx="425.8" cy="648.5" r="2.0" fill="none" stroke="#111" stroke-width="1.2"/>
<circle cx="424.2" cy="678.5" r="2.0" fill="none" stroke="#111" stroke-width="1.2"/>
<circle cx="395.8" cy="685.4" r="2.0" fill="none" stroke="#111" stroke-width="1.2"/>
<circle cx="416.5" cy="655.4" r="2.0" fill="none" stroke="#111" stroke-width="1.2"/>
<circle cx="444.0" cy="642.0" r="2.0" fill="none" stroke="#111" stroke-width="1.2"/>
<circle cx="444.0" cy="645.0" r="2.0" fill="none" stroke="#111" stroke-width="1.2"/>
<circle cx="427.0" cy="650.0" r="2.0" fill="none" stroke="#111" stroke-width="1.2"/>
<circle cx="316.0" cy="685.8" r="2.0" fill="none" stroke="#111" stroke-width="1.2"/>
<circle cx="317.2" cy="689.4" r="2.0" fill="none" stroke="#111" stroke-width="1.2"/>
<circle cx="330.9" cy="686.0" r="2.0" fill="none" stroke="#111" stroke-width="1.2"/>
<circle cx="318.3" cy="690.0" r="2.0" fill="none" stroke="#111" stroke-width="1.2"/>
<circle cx="376.4" cy="689.0" r="2.0" fill="none" stroke="#111" stroke-width="1.2"/>
<circle cx="332.9" cy="686.5" r="2.0" fill="none" stroke="#111" stroke-width="1.2"/>
<circle cx="333.7" cy="687.8" r="2.0" fill="none" stroke="#111" stroke-width="1.2"/>
<circle cx="323.7" cy="687.7" r="2.0" fill="none" stroke="#111" stroke-width="1.2"/>
<circle cx="331.5" cy="690.8" r="2.0" fill="none" stroke="#111" stroke-width="1.2"/>
<circle cx="384.0" cy="688.3" r="2.0" fill="none" stroke="#111" stroke-width="1.2"/>
<circle cx="408.8" cy="690.8" r="2.0" fill="none" stroke="#111" stroke-width="1.2"/>
<circle cx="410.7" cy="687.1" r="2.0" fill="none" stroke="#111" stroke-width="1.2"/>
<circle cx="402.0" cy="687.3" r="2.0" fill="none" stroke="#111" stroke-width="1.2"/>
<circle cx="415.3" cy="688.0" r="2.0" fill="none" stroke="#111" stroke-width="1.2"/>
<circle cx="407.6" cy="688.0" r="2.0" fill="none" stroke="#111" stroke-width="1.2"/>
<path d="M216.1 430.8L219.9 430.8L218.0 427.4Z" fill="#111"/>
<path d="M207.6 452.8L211.4 452.8L209.5 449.4Z" fill="#111"/>
<path d="M235.1 444.0L238.9 444.0L237.0 440.6Z" fill="#111"/>
<path d="M235.6 451.5L239.4 451.5L237.5 448.1Z" fill="#111"/>
<path d="M235.1 509.0L238.9 509.0L237.0 505.6Z" fill="#111"/>
<circle cx="222.5" cy="435.0" r="1.9" fill="#111"/>
<circle cx="223.2" cy="520.5" r="1.9" fill="#111"/>
</svg>
</body></html>
